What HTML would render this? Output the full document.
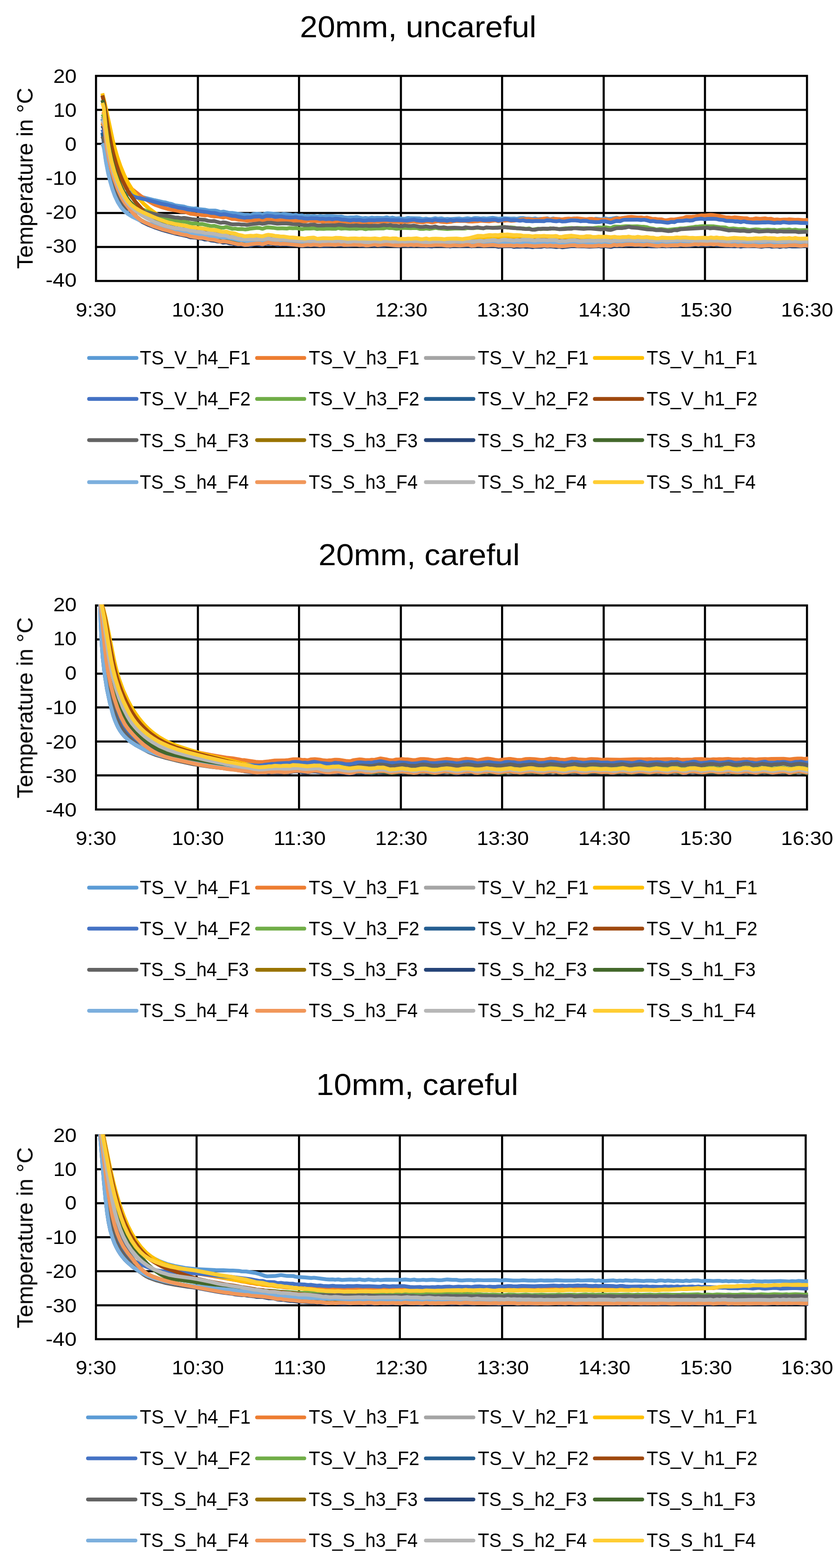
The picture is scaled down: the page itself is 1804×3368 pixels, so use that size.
<!DOCTYPE html>
<html lang="en">
<head>
<meta charset="utf-8">
<title>Temperature curves</title>
<style>
html,body{margin:0;padding:0;background:#fff;}
body{width:1804px;height:3368px;overflow:hidden;}
svg{display:block;}
text{font-family:"Liberation Sans", sans-serif;fill:#000;}
.title{font-size:64px;}
.tick{font-size:43.3px;}
.atitle{font-size:47.5px;}
.leg{font-size:41.6px;}
.grid{stroke:#000;stroke-width:4.5;fill:none;}
.series path{fill:none;stroke-width:8.2;stroke-linejoin:round;stroke-linecap:butt;}
.lk{fill:none;stroke-width:8.2;stroke-linecap:round;}
</style>
</head>
<body>
<svg width="1804" height="3368" viewBox="0 0 1804 3368" role="img" aria-label="Temperature curves for three insulation variants">
<rect width="1804" height="3368" fill="#fff"/>
<defs>
<clipPath id="clip0"><rect x="206.2" y="160.7" width="1529.2" height="445.1"/></clipPath>
<clipPath id="clip1"><rect x="206.2" y="1298.2" width="1529.2" height="442.8"/></clipPath>
<clipPath id="clip2"><rect x="206.1" y="2436.4" width="1529.3" height="442.2"/></clipPath>
<filter id="soft" x="0" y="0" width="1804" height="3368" filterUnits="userSpaceOnUse" color-interpolation-filters="sRGB"><feGaussianBlur stdDeviation="0.5"/></filter>
</defs>
<g filter="url(#soft)">
<g class="chart">
<text class="title" x="644" y="79.5" textLength="508" lengthAdjust="spacingAndGlyphs">20mm, uncareful</text>
<path class="grid" d="M203.9 162.9H1735.3M203.9 236H1735.3M203.9 309H1735.3M203.9 384.2H1735.3M203.9 457.6H1735.3M203.9 530.5H1735.3M203.9 603.5H1735.3M206.2 160.7V605.8M425 160.7V605.8M642.2 160.7V605.8M861 160.7V605.8M1078.3 160.7V605.8M1296.5 160.7V605.8M1514 160.7V605.8M1733.1 160.7V605.8"/>
<g class="series" clip-path="url(#clip0)">
<path stroke="#5B9BD5" d="M219.8 255l2.4 11.7l2.3 28.9l2.8 23.8l2.8 17.9l3.1 16.7l5.1 21.4l6.3 21.1l4.3 11.3l1.9 3.5l2.4 2.9l2 1.7l2.4 1.2l4.2 .6l4.6-.8l11.2-3.7l3.8-.3l2.7 .3l4.4 1.6l11.8 6.6l6.5 2.2l25.4 6.5l17.6 4l5.8 .8l6.8 2.1l5.9 1l7.8 3l19.5 2.9l6.9 2.2l9.9 1.6l3 .3l5.9-.3l6 1.6l13.9 1.4l7 1.6l13.9 .1l5 .9l5.9 2.1l2 0l5-.9l12.9 2.9l5.9 0l25.8 3.9l8 .1l5 .9l2-.4l5-2.1l7-.6l6 .3l5 1.5l2.1-.1l6-2.3l4-.6l22 1.8l6 .9l7-1.1l14 1.7l5 1.2l7-1.2l6 2l7-.7l6 2.2l7-1.1l6 1l7-.7l7 1.3l6-1.3l7 .8l7-.6l12 .2l12 .9l7-.3l6 1.8l8 .7l6-.4l6.1 .1l7-.9l13 2.8l6-1l7 1l7-1.5l5 .7l6-.5l14 .5l6-1.4l2 .2l5 1.8l6-1.5l7 1.9l7.1-.7l5 1l7 .3l2-.2l4-1.4l2-.2l5 .6l20 .4l6 1.7l7-1.3l6 1.2l6-.1l8-1.9l6.1 1.2l7-.8l7 1.6l6-.5l6 .4l19-1.2l7 1.2l11-1.8l9 1.4l5-1.6l3-.3l5.1 .2l6 1.1l6-.7l7 .7l13-1.7l12 1.9l13-.9l14 .7l7-.3l6.1 .8l6-1.4l7-.4l6 1.2l7 0l7 .8l6-1.1l6 1.5l7-.7l7 .5l4-1.3l2-.3l5 1.7l2 .2l6-1.5l7.1 1.6l6-.4l5 1.6l2 .1l6-.1l6-1.3l13-1.4l7 1.9l6-.3l10 .9l9 0l8-.2l6-1.9l12.1 1.3l2-.4l4-1.4l2-.2l6 1.2l2 0l7-.7l9-1.9l2 .1l4 1.6l2 .4l5-1.5l3-.4l5-.2l5 1.3l2 .1l6-.4l6-1.4l7 .6l6 1.4l7 .3l6-.4l7 3l5 0l10 .9l16 .1l6 .6l14.9-1.8l6 1l19-3.5l13.9-1.7l6-.1l6-1.1l7 .6l5.9-.9l17-1.1l4 .3l6 1.8l5.9 0l8 1.2l5 1.7l7 1.7l6.9-2l7 1.6l12-.2l6 1.9l7-.1l14 1l6.9 1l11 .3l7-1.6l7 1.3l6-.9l5 2.2l2.1 .5l7-.4l6-.9l6 1.3l8-.7l5-1l7 0l6 .8l6-.8l22.1 1.2"/>
<path stroke="#ED7D31" d="M219.8 240l4.3 2.7l2.8 2.5l1.7 2.2l1.5 3.3l11.7 55.7l4.6 18.5l5 17.3l6.1 17.9l6.4 15.8l8.3 17.1l5 7.4l5.5 5.4l22.1 17.2l17 10.6l7 4.1l6.3 3l13.2 4.6l11.5 3.3l22.5 4.3l6 1.7l7.9 .3l5.9 1.7l6.8 2.6l5.9 .4l6.9 1.2l6 0l5.9 1.1l7 .8l6-.7l6 1.9l7 .9l4.9 0l7 .7l7 1.6l1.9 0l5-1l2 .4l11.8 4l5.9 0l7.9 1.4l11.8 .9l6 1.5l7-1.1l18-1l8.1 1.5l2-.3l5-1.9l3-.4l9 1.5l7-.5l6 1.1l6 .1l6-.6l8-.3l6 1.1l14 .3l6 1l6 .1l6 .8l2-.1l5-1.4l8-.3l6 1.2l13 0l6 1.4l7.1-1.4l18 1.1l7-.5l8 .5l6-.3l6 .5l6 1.3l7-1.5l7 1l6-.5l8 .4l5-.6l7 1.5l10-1.6l16-.1l5 .5l14-1.8l6 1.4l8-.2l11.1 1.1l7-1.3l7 .8l13-1.7l6 1.8l13 .8l7-1.7l7 .3l4 1.2l2 .2l13-2.6l6 1.3l13 .9l8-.9l5-1.2l7-.6l20.1 0l6 1.1l8 .2l6-.6l6-.1l6-1l19 1.1l12-1.8l2 .2l4 1.3l2 .1l7-1.9l6 .7l6-.7l7 1.1l7-.3l19-3l13-.3l9 1.1l10 .1l7-.7l5-1.4l2-.1l6 .2l6 1.5l12-1.4l14 1.3l7-1.3l7-.3l6 .4l12.1-1.1l20 2.1l7-1.1l6 .2l18 2l14-.5l6.9 1.8l2-.4l5-2.3l5-1.5l12-.4l13.9-2.6l7-.4l14 1.5l7-.4l6 1.2l6-1l13 3.2l6-.2l6 1l7 0l6.9 1.9l2 .2l11-2l6.9 .3l11.9-2l7.9-1.4l4.9-2l2-.4l11.9-.1l6-.6l13.9-2.6l7 .3l12.9-1.1l4 .2l14.9 2l13.9 3.1l6 0l6 .7l6.9-1l19 2.2l7-.1l6 2l8-.5l5-1.1l9 .8l11-.9l6 1.2l7-.4l5 1.6l2 .3l6-.5l6 .7l8-.4l6 .1l6-.7l13 1.2l6-.4l13 1.1l6-.5l3 .6"/>
<path stroke="#A5A5A5" d="M219.8 250l3.5 6.9l1.4 4.6l3.8 32.7l3.8 25.8l4.8 24.5l5.7 22.3l6.7 21l7.4 18.6l8 16.1l3.6 6l4 5.7l4.5 5.4l5.6 5.6l6.8 6l7.1 5.5l8.3 5.6l9.5 5.6l16.1 8.1l13.8 5.7l17.2 5.1l17.6 3.6l20.8 3l8.9 2.4l18.8 2.3l6.9 1.3l11.9 1.1l6.9 1.9l6.9 1.1l6 .3l7.9 2.6l6.9-.1l5 .6l19.6 4.5l13.8 2.6l24.8 .6l6.1-1l4-.2l9 1.1l10.1-1.8l10 1.5l10 .8l8 .1l8-.6l13 1.4l14 .2l7 1.4l11 .3l19-.7l10 1.7l12-.5l6-.7l6 .6l6-.4l6 .4l7-.7l7 1l7 0l8 .9l12-.9l11 .8l6-.5l7 .5l8-.2l4.1 .5l11-1l9 .5l20-1.2l9 1.3l5 0l6-.6l6 .8l26-1.3l7 1l7 .4l13-.6l7.1 1.1l14-1.3l19 .7l5-.3l6 .2l14-.6l7 .3l16-1.1l10 1l7-.9l14-.3l24-1.6l11 .9l9-.9l12 .4l6-.8l13 .6l7-.8l6 .3l7-.7l18.1 2.1l8-1.4l13 .3l6-.4l8 .2l14 1.3l16-.1l9-.6l6 .2l6-.6l7 1.3l6-.3l7 .5l7.1-.5l13 .8l26-1.1l12 1.4l7-1.9l4-.5l12 1.1l9-.7l13-.2l7 .5l6-.7l17 .2l8 .2l9.1 1l11-.2l7-1.3l13 2l7-1.5l6 .5l6-.6l8-.2l6 .3l6 1.1l6-.2l7 .8l12-.7l8 .3l39.1 0l8 .2l10 1l14-2.2l7 .5l7-.2l13 1.2l14-.4l11 1l7-1.4l12 .3l6-.6l14.1 1.5l33-.3l6-.5l12 .7l8-.4l8 1"/>
<path stroke="#FFC000" d="M219.8 200.5l6.2 25.3l15.7 73.4l5.1 20.3l5 17.3l7.2 20.8l7.7 18.5l8.6 17l9.4 15.3l11.2 15.4l12.1 13.3l12.7 11.3l14.6 10.6l9.5 5.4l18 8.7l25.4 9.8l11.5 3.2l7.6 3l4.9 1.2l15.5 2.1l6.9 1.6l29.7 4l11 2.5l10.9 .8l6.9 2.1l11.7 2.1l15.6 3.4l7.9 .7l8.9 .3l8-.9l8.1-.1l10 1.4l4.1-.5l6-1.6l3-.2l7 1.2l6 .4l6.9 1.4l8-.3l18 2.1l7 .1l7 .7l6 1l6-.2l6 .6l11-.4l8-.7l9 1l23-1.3l15 0l13 .1l5 1.1l10 .5l17.1-1.2l6 .8l9 .5l16 0l9-1l12 .9l6-1.1l6-.5l13 .1l18 1.1l12-.2l16-1.1l7.1 .6l8 1.3l11-.7l11 .3l14-1.3l3 .2l4 .8l9 .2l25-1.1l6 .8l6 0l12-1l7 1.2l4 .2l4-.4l5-1.2l6-.4l15-.4l5 .6l8-1.1l7 .8l13-1.6l12 .5l13.1-.7l6 .5l7-1l7-.1l6-.7l15 1.9l5-.2l6-.9l6 .2l7-1l19 1.4l6-.5l6 1.5l2 .1l12 .1l7-1.6l13.1-.4l11 1.6l10 0l12-.6l5 .8l7 .4l6-.8l8 0l17 1.3l4-.2l8-1.5l10 .8l7-.8l18 .5l7-.5l6.1 .9l14-.7l19 2l14-.9l16 1.2l9-1l6 .7l6-.8l7 .2l6-.9l7 .9l7-.3l6 1.2l13-1.4l14 .9l15.1-.7l26 .7l10 1.2l9-1.6l5 .3l6 .9l6-.8l6 0l13 1l6-.8l4-.1l10 1.2l8-1.1l16 .3l9 1l13.1-.6l19-.2l7-.5l7 .2l6 .9l6-.6l7-.1l8 .9"/>
<path stroke="#4472C4" d="M219.8 278l2.4 6.4l1.2 4.8l2.8 24.8l2.6 18.8l3.4 18.8l3.9 17.6l5 18.3l5.6 17.2l3 6.3l1.7 2.2l1.9 1.7l3 1.4l2.5 .3l10.2-1.3l4.4 .4l4.4 1.5l9.7 4.9l6.6 2.2l22.4 5l30.1 8.2l16.5 3.3l5.9 1.8l6.8 1.3l5.9 1.8l13.7 2.1l6.9 2l5.9 .9l9.9 .7l8.9 1.8l19.8 2.5l6.9 1.7l8 .3l11.9 3.3l5.9-.8l6 .5l12.9 2.9l6.9 .2l5.9 1.6l13.9 2.3l6-.9l7 .2l7-1.6l11-.6l2 .1l4 1.5l2 .2l7-2.6l3-.3l10 .6l7 1.6l13-.9l11 1.7l8 .5l7-.2l5-.7l7 1.5l6 .1l6 1.3l7 .4l7-.9l7 .3l5-.2l7 1.5l6-.6l7 .9l7-.7l7 1.2l5-1.2l7 .1l7 1.6l7 .2l12.1 1.7l7-1.3l6 .7l7-.5l8 1.5l6-.3l5-.9l13 .5l6-.7l4 .2l15-.7l8 .6l26.1 .3l5 .6l6 .1l15-1.9l6 1.5l11 .9l3-.1l5-1l6-.4l8 1.2l5-1.6l2-.2l6 1.2l6 .2l7-.3l6 1.3l7.1-1.9l6 1.4l7-1.4l8 .8l18 .1l5-1.1l9-.6l5 .6l6-.8l7 1.4l12-.2l7-.8l5.1 0l3 .4l5 1.5l8-1.3l4-1.4l2-.2l7 .5l6 1.5l6-.2l7 .4l6 1l6.9-.9l6 1.6l6-.1l8 .7l7-.7l18.1 .4l5-1.5l2-.2l7 .2l5 1.1l8 .6l6-1l6 1.4l7-.3l12-2l9 .1l5 .3l6 1.3l6-.7l7 .2l6 1.4l14.1 1.1l7-.1l5-1.3l7-.4l11 2.5l2 .2l3-.6l8.9-2.7l8 .5l5-2.1l5-1l28-.2l7 .7l7-.6l7 1.5l6 1.8l6-.5l7 1.3l8 .2l16 2.1l3-.3l4.9-1.4l7 .4l5-2.1l2-.3l11.9-.4l7-1.2l6 .7l7-.4l6-2.4l12.9-1.4l7 1.4l6-.9l10.9-.3l8 .5l7 1.6l7.9 .6l6 1.8l14 .5l6 1.3l4.9-.5l7 1.6l6-1.6l2 .2l5 1.4l12 .9l9 .3l13-.6l6 .1l6.1-.5l13 1.6l6-.8l7 .5l5-1.3l2-.1l12 1.4l12-.7l5 .2l8 .7l9 0l7 1.1"/>
<path stroke="#70AD47" d="M219.8 245l4.3 6.4l1.9 5.4l4.4 33.6l4.2 25.7l4.9 23.5l5.9 22.3l5.9 18l7 17.7l7.4 15.3l8.1 13.8l4.8 6.3l5.7 5.6l6.5 4.5l7.1 3.7l51.1 20l6.5 2.1l13.6 3.1l8 2.4l5.9 .8l5 0l8 .7l5.9 1.3l6 2l4.9 .8l3 .2l5-.4l6.9 1.5l6.9-.1l18.9 4.5l6.9-.6l10.9 3.2l4 .8l5 0l4-1.3l1.9-.2l13 3.9l6-.5l6 1.2l7.9-.3l7 .9l6-.6l5-1.1l15-1.7l6 .5l4 1.3l2 .1l8-2.6l3-.3l11 .9l10 1.4l10-.3l10 .5l6-1.1l7 .7l7-.5l13 2.2l6-1.4l11.1 0l7-.5l2 .1l6 1.6l6-.7l8 .4l9-.9l9 .7l6 0l2-.2l5-1.6l7 1.6l6-.7l4 0l8 .8l9-.5l5 .8l6-1l7.1-.2l5 1.5l2 .3l6-1.4l5 .4l13-.6l14 0l7-1.7l6 1l7 0l7 1.3l7-.3l6-1.4l7 0l12 .6l7-.5l7.1 .3l6 1.7l7 0l6-1.1l7 1.2l13-2.3l5 .8l20 1.6l20-1.3l18 .4l6-1.2l12.1 .3l9-.9l13 1.1l6-1.5l14 .5l25-1.8l7 1.5l6-.7l8 .8l5 1.2l7 .5l6.9-.3l6 1.1l7-1.1l5 2.3l2 .4l12-1.8l6 .7l7-.8l7 .7l6-1.6l6 .7l6 0l7 .9l14.1-1.7l5 0l8-.8l6 .7l6-.5l13 .5l8-.4l5 .4l9-.4l11-1.3l6 .4l9-.5l11 1.5l2-.6l4-2.1l2-.5l13 .3l12-1.2l13 .5l11-.2l9 1l6 .1l6 .9l5.9 2l8 1.2l5 1.5l2 .1l5-.7l5-.1l13 1.8l21.9-2.2l6-1.2l6 .1l6.9-.7l5-.9l8-.8l7-1.4l6-.2l8-.8l24.9 .4l12.9 1.8l12 .7l7 2.7l9.9-.8l11 1.5l12-.4l5 1.3l7 1.1l13-1.4l8 .5l5 .9l13-.7l8 .5l6-.4l6 1.4l6-1l6-.5l8 .2l6-.8l6 1.5l7-1.1l7 1.3l17.1-.2l4 .4"/>
<path stroke="#255E91" d="M219.8 285l1.9 10.8l2.8 26.9l3.2 22.8l4.1 21.6l5.2 21.4l6.4 21.1l6.2 15.8l3.5 7.2l3.5 6.1l3.9 5.7l3.8 4.7l4.2 4.3l4.5 3.9l5.6 4.2l5.9 3.7l14.3 7.2l19.4 8l17.3 5.1l32.2 7.2l7.8 2.4l13.7 2.5l24.6 5.3l19.8 2.4l9.9 .4l9 1.4l12 1.2l12.9 2.4l9-.2l12.8 2.8l5.9 .6l12.7 3.2l7.9 1.1l17.9-.6l8.1-.8l7 .9l3 0l5-.5l5.1-1.3l3-.3l21 3.1l12.9-.4l8 1.5l33 2.3l6-.5l7 .3l8-1l4 .1l5 1.2l3 .3l10-.7l7 .2l7.1-.9l7 .5l13-.7l6 1l7-.5l8 1.2l12-.6l12 .1l8.1 .5l6-.1l6 .5l9-1.1l7-.2l9 .6l12-.7l12 0l9.1 .9l26-.9l7 .3l6-.5l13 1.3l8-.5l17.1 1.1l10-1.3l16-.2l7 1.1l7-1.1l6 .3l12-.7l19-.1l9.1 .8l8-.8l26 .3l11-.5l5 .3l7 1.2l12-1.4l15.1 .6l6 .7l7-.7l25-.7l9 1.9l15-.4l15-.9l7 .7l10.1-.2l9 1.3l8-.1l5 .5l14-1.7l20 .9l6 .9l6-.7l11.1-.2l15 1l6 0l10-.9l12 1l4-.4l6-1.4l11 .7l9-1l7 .5l13.1-.4l13 .3l12-1.3l9 1.3l14-.2l8-.7l12 .7l9.1-.1l13-1.2l8-.1l6 .7l7-.4l11 1.1l14-.5l17 .7l4 0l6.1-.9l6 .2l7-.4l6 .4l11-.4l8 1.4l8-1.6l6 .3l5-.6l8 0l5 .5l7-.1l5.1 .6l13-.2l12 .5l8-1.1l11 0l9 1.3l7 0l6 .6l20.1-1.4l20 1.2l13-.7l8 .6"/>
<path stroke="#9E480E" d="M219.8 205l3.5 14.5l8 50.5l4.5 25.6l4 19.6l4.2 17.5l5.8 20.2l6.2 18l6.9 16.6l8 16.2l9.3 15.4l10.1 13.6l17.1 19.6l8.5 8.6l5.9 5.3l7.1 5.7l5.7 4l11.4 6l10.3 3.7l19.4 4.7l20.9 2.6l14.9 3.2l22.7 3.2l5.9 .4l8.9 1.7l15.9 2l9.9 2.8l10.9 .5l19.6 4.7l6.9 .7l6.9 1.5l8.9 .8l9 .1l17-1l9 1l5.1-.3l6-1.5l2-.1l17 2.5l4 .1l8-.9l11 1.3l7 .1l6 1l12 .4l13 1l7-.8l10-.1l4 .2l8 1.2l22-.9l16 .1l10 .3l17.1 1.6l12-1l31 1.3l8-1.2l11-.1l7 .5l20-1.2l7 .8l6.1-.3l12 .8l7-.7l12-.1l26 .8l13-.2l7 .6l9-.9l11 .4l6.1-.4l13 .6l14-1l7 .5l15-.3l14 .3l7-.7l9 .2l11-1.1l7 .1l12-.9l8 .4l19-1.3l14 1.1l20-1.8l22.1 1.5l20-.8l7 0l8 .7l32 1.4l15-.7l7.1-.8l6 .3l5 1l7 .3l8-.5l25 .5l6-.9l8-.3l10 1.1l4 .1l4-.4l6-1.5l8 1l10-1.1l41.1 .2l6-.7l9 1l11 .6l9-.6l12 1.1l7-.7l25.1-.7l6 .3l6 .9l6-.2l7 .6l20-.5l13 1.3l13-1.3l6 .3l18-.1l8 1.3l11.1-1.7l9 .4l6-.6l16 1.3l15-.6l9 .6l7-.8l6 .1l6-.5l7 1.2l6 .3l25.1-.1l13-.7l7 .6l7-.3l5 .7l11-.5l5 .3"/>
<path stroke="#636363" d="M219.8 293l2.7 6.3l1.4 4.6l3.4 25.8l3.3 19.7l4.2 19.6l5 19.3l5.5 17.2l5.5 14l7.5 15.3l2.6 4.3l2.4 3l3.5 3l3.2 1.9l9.5 2.9l50.3 9.4l6.9 1.6l27.7 3.9l10.9 2.3l6.9 .3l7 1.3l5-.7l2 .1l15.9 2.8l9 1l6-.6l12.9 1l6.9 1.9l7 .8l5.9-.4l12.9 3.8l2 .1l4-.8l3 .1l5 .8l8.9 2.6l4 .7l12.9-.4l5 .8l7 0l5.9 .9l7-1.3l18-2.2l3 0l5 1.1l5-.7l6-1.6l8 0l13 1.9l10-.5l10 0l8 .7l5 .9l14 .3l6 1.4l4 .3l10 0l5-.9l4-.1l4 .2l5 1.4l2 .2l13-.1l6-.7l18 .6l8-1.4l23 2.3l15-.9l6.1 .9l8 .2l6-.7l7 .9l12-.8l8 .5l12-1.8l6 .9l7-1l6 1.7l7-.1l6 1l7-.1l6-1.5l6 1.1l8 0l5-.7l14 2.8l7-.3l5-.9l7 1.4l6 .3l7-1.4l7 2.1l6 .2l6-.6l7 1.3l15-.5l11 .5l6.1 .7l2-.2l5-1.7l13 1.7l13-1.6l6 1.1l7 .6l6-1.6l13 1l5-.2l6 .2l16-1.6l7 .5l5 1.1l6 .5l14 .3l6 1.1l7 .6l6.9-.2l6 1.4l4 .3l3-.2l5-1.1l11-1.1l16.1 .3l7-.9l12 1.8l13-.4l8-.7l6 .1l5-1.2l2 0l19 1.6l5-.6l8-.4l24.1 2.1l8-1l5.9 1.6l6 .5l3-.5l10-3.3l7-.5l6 .2l8-1.2l6-1.3l6 1.4l13.9 1l19.9 3l11.9 .4l7 1.3l11-.2l14 2.1l8-.5l6-1.7l6 .6l7-2.2l57.9-3.4l6 1.4l6.9-.8l12.9 1.4l19.9 4l8-.8l17 1.7l8-.6l6 1.3l3 .2l4-.1l5-1.3l2 0l12 2l20.1-1.4l7 1.1l6-.6l6 1l7-.9l5 .6l27 0l7 1.4l16-.8l3 .1l2 .6"/>
<path stroke="#997300" d="M219.8 265l3.4 7l1.4 4.6l3.5 30.8l3.9 24.7l4.8 23.5l5.9 22.3l7 20.8l7.4 17.6l7.5 14.1l8.6 12.2l11.5 14l9 9.3l8.6 6.7l9.6 5.3l13.8 6l18.9 6.9l25.9 7.6l17.5 4.3l9.8 1.7l10.8 3.1l6.9 .7l17.7 3.1l12.8 1.6l6.9 1.4l11.9 1.4l9.9 2.5l16.9 1.5l6.9 1.9l12.8 2.4l6.9 0l6 1.2l4 .3l10.9-.8l13-2l12.1 1.1l9-2.9l3-.3l20 3.2l13-.4l7 1.3l6-.4l7 .7l13 .4l9 .8l22-1.3l14 1.4l18-1.2l14 .3l11-.5l9.1 .9l10 .1l24-.8l12 1.1l9-.2l10-.7l9 .7l17-1.1l6.1 .8l9 .4l11-.1l6 .7l13-1l7-.2l6 .8l6-.1l13 .8l8-.4l8 .9l17-1.2l7.1 .6l6-.3l6 .6l13-.2l8-1l6 .8l6 .2l12-1.3l9 1.7l10-.8l8 0l7 .6l6.1-.6l8-.1l7 .2l9 .9l15-.8l15 .9l12-.3l5 .5l7-.9l7 .7l7 .1l8 .9l11-.1l8-1.1l12 .5l17.1-.2l8 1.3l7-.7l6 .2l8-1.2l12-.3l8 .9l11 .2l6-.8l8-.3l12 .8l13-.6l7.1-1.1l13 1.8l11-2.5l12 .8l9-.9l7 .3l12-.6l7 .5l7-.4l6 .5l6-.5l8 1.7l13 .4l8-.7l14.1 1.4l29-2l6-.8l14 .6l13-1.3l6 .1l7-.6l13 1l7-.8l6 .4l6-.4l13 .6l9 2l4 .5l6-1.3l3-.2l11 1.3l12-.5l10 1l12-.2l10 .5l12-1l8-.2l8 .9l12 .4l20-.4l6-.9l6.1 .6l13-.2l6 .4l8-.2l5-.7l3 .3"/>
<path stroke="#264478" d="M219.8 270l3.7 6.8l1.5 4.5l4.1 32.8l4.3 25.6l5.8 25.4l6.8 23l7.7 20.6l7.8 16.2l7.3 11.9l12.7 16.8l9 10.7l8.1 7.5l7.4 5l10.7 5.3l14 5.7l18.9 6.5l29.9 8.3l21.5 4.4l7.8 2.7l10.8 .7l7.9 1.4l6.9 .7l5.9 2l6.9-.2l6 2.2l6.9 .6l6.9 1.6l6 .5l5.9 1.9l7-.7l6.9 2.2l6.9 .6l5.9 2.1l12.9 .4l6.9 1.2l7-.4l5 .9l2-.3l5-1.6l7-.6l6 1.2l7 .2l6-2.5l3-.5l10 .2l13 2.7l7-.8l7 .3l5-.3l7 1l7-.2l13 .9l6 1.4l7-1.3l6 .4l8-.6l13 .6l5-.4l7 1.4l8-.8l5-.1l6-.8l6 .3l8-.4l6 .4l6-.4l8.1 .8l17-.9l17 1.4l12-.4l5-.6l6 1l6-.8l5 .6l8 .3l6-1.1l8-.1l19 1.9l6-1.4l13.1 .9l14-.4l5-.8l7 1.3l4 .4l10-.6l11 1.2l2-.1l6-1.7l6-.3l6 .7l6-.1l9 .5l5 1l13-1.8l7 1.2l6-1l6.1 .6l6-.5l8 1.2l6-1.1l6-.6l8 1.2l6-.9l12 .8l8-.8l12 2.3l12-1.4l8 .1l6-.5l7 2.1l6-.8l6 .4l7-.7l7 .8l6-.4l8 1.3l6-1l12 .2l7-1.4l6 .8l8.1-.4l12 1.5l7-.7l6 1.1l20-2.5l14 .5l11-.2l5 .6l8 .3l20-1l6 1l8-1.1l12 1.7l9-2.2l11.1 .1l6-1.4l6 .7l7-1l6 .6l14 .2l6 .7l5-1.2l7-.4l2 .4l4 1.8l3 .4l14 0l10-1.3l7 1.3l7-.4l5 .6l6-1.4l3-.3l11 .2l7-.8l5 .7l8 .2l13-2l6 1l7 0l6-.7l7 1l6-1.2l5-.4l3 .2l5 1.1l14 .2l7 1.2l5-.1l5 .7l9 .2l5-.6l7 1.1l6-1l11 .3l13-.3l15 1.5l6-1.2l8-.7l7 1.6l6-.1l6-.6l6 1.5l7-1.6l6 .6l7.1-.9l6 .8l8 0l12-.3l7-1.1l8 .8"/>
<path stroke="#43682B" d="M219.8 215l2.2 7.6l1.1 5.9l4.7 42.7l4.8 33.7l4.4 23.6l5 21.4l6.9 23.1l8.1 21.5l4.5 10l5 9.8l4.9 8.7l4.5 6.7l4.9 6.2l5.5 5.8l6.6 6.1l7.8 6.4l15.7 10.6l17.6 9.7l14.7 6l24.7 8.2l22.4 4.9l12.7 4l12.7 2.3l5.9 1.6l7.8 1.5l4.9-.2l4.9 .8l3 .6l5.9 2.3l6.9-.4l17.7 4.5l7.9 .2l6.8 2.1l4.9 2.1l7.9 2.1l6.8 1.3l12.8 1.5l12.9-.9l13-.1l5-.9l13.1 .5l7-2.1l7 1.9l13 2l6-1l5-.1l3 .3l6 1.5l19 1.2l7-.1l7 1.2l6-1.1l12 .5l7-1.4l7 1.3l13-.3l6-1.1l6-.5l2 .1l5 1.3l7-.6l13 .5l7-.3l7 .6l6-.4l5 .5l14.1-.1l8 .9l12-.1l7-1.2l5 .4l6-.4l7 .6l8-1.1l19 1l12-.3l6 1.1l7-1.3l7 .1l6-.8l7 .5l6-.3l11 1.8l8.1 .4l24-1.3l9 .6l6-.3l7 1l6-1.2l8-.5l6 .1l7 .9l16-1.4l10 1.4l7-1l5-.2l6 1.1l4 .1l10-.2l6-1.5l12.1 .7l7 1.5l7-1.8l7 .9l6-1.1l13 1.9l6-1l7 .4l5-1.1l8-.7l5 .9l11 1.1l4-.2l5-1l8-.3l5 1.1l12 .6l13-1.3l2 .2l6 1.6l7 .4l7.1-.4l5-1.7l2-.2l6 .3l6 .7l6-.8l6 1.8l7 .5l6-1.3l7-.6l2 .3l4 1.5l2 .2l12-.8l13 .2l5-.6l12 .5l8-1.5l7 1.1l5 .3l2-.2l6-1.6l13-.6l7.1 1.3l6-1.4l7 1.5l8-.8l12 .7l6-.9l7 .2l5 .9l7-1.8l7 1.6l7-1.2l6-.3l6 .5l7-1.1l5 .7l8 .3l6-.7l14 0l5 .4l7-.8l6 1.2l10.1 .4l15-.7l8 .5l6-.7l7 .6l5-.5l6 .1l10-1l5 .9l6-.8l7 .9l14 .1l6-.5l5 .5l7-.2l7 1.5l6-1.7l4-.4l24.1 1.1l11 1l13-1.6l7 .6l13 .2l6-.5l8 .7l5 1l9 .5"/>
<path stroke="#7CAFDD" d="M219.8 308l2.4 6.5l1.2 4.7l4.2 28.7l4.5 23.6l4.3 17.5l5 17.3l5.4 15l6 12.7l6.3 10.2l7.2 8.3l8.3 7l10.2 6.3l13.6 6.5l19.5 7.8l12.4 4l21.4 4.6l16.6 4l6.8 2.2l6.9 1l7.8 2l10.8 1.6l13.7 3.8l6 .3l6.9 1.2l13.9 1.2l5-.1l7 1l6.9 .4l7 1.9l6 0l6 1.8l6.9-.9l18.8 3.7l7.8 1.9l5.8 .2l6.9 1.1l6 1.4l8-.6l5-1.2l2-.2l8-.1l7 .6l7.1-.2l5-1.3l3-.3l8 .6l5 1.5l7 1.5l1.9-.2l4-1l2-.1l6 .8l6 1.5l20 1.1l6 .9l11 .3l16-.8l6 .6l5-.6l7 1.6l6-1.6l7 .5l7-1.4l6 1.3l8-.1l12 .6l7-.5l11 1.6l13.1-1.8l9 .1l6 .5l6 1.4l6-.9l6 .7l7-1l8 .1l5-.9l6 .8l7-.1l7-1.6l7 1.5l6-.2l12.1 .5l8-.4l12-1.3l6 1.4l8 .5l5-.6l15 .1l6 .4l5 .9l2-.3l4-1.6l2-.3l11 .9l15 .1l5 .5l7-1.4l7-.3l13.1 1.3l5-1.3l6-.5l2 .2l6 2.3l2-.3l4-1.5l2-.2l5 .4l6-.2l6 .7l7 .1l8-1.3l15 1.1l11-1.2l5-.2l7 1.3l7-.6l12 1.5l14.1-.9l6-1.2l8 .6l10 1.4l15-.8l19 .8l6-.8l2 .2l5 1.4l7 .5l6-.6l12 .4l7-1.3l7-.1l10 1.2l4 0l5-.9l6 1l15.1 .8l6-.3l6-1l14 0l8 1l7-.4l9-1.3l2 .2l5 1.4l3 .1l9-1.3l14-1.1l6 1.3l14-.2l5-1.6l2-.2l6 1.2l6-.6l7.1 1.7l6-.4l6 .3l7-1.6l12 1.5l8-1.7l5 .5l8 .1l12-1l20 2.1l8-1l12 .8l6-1.4l7 0l6 .9l8.1-.7l5-.9l6 .8l11-.2l8 .6l9-1.4l5 .6l7-.5l5 .9l15 .5l5-.6l8-.1l7 .6l8 0l11-.3l5-.7l4-.1l4 .4l5 1.6l7.1 .2l6-1.2l7 .6l7-1.1l6 .7l7-.4l6 1l7-1l6 1.5l6-1.1l6-.2l3 .4"/>
<path stroke="#F1975A" d="M219.8 262l3.2 7.1l1.3 4.6l4.5 38.8l5.5 31.5l5 21.5l5.9 20.1l7.9 21.6l8.1 17.2l3.5 6.1l4.4 6.7l13 16.5l10.1 11l4.5 4l4.8 3.6l9.5 5.5l19.3 8.4l19 6.5l13.4 3.3l12.5 4.2l6.9 .8l5.8 1.9l6.9 1.4l5.9 .5l7.8 2.9l12.8 1.9l5.9 1.4l6.9-.3l7.9 1.6l5.9 1.7l12.9 1.2l12.9 3.8l5.9-.6l4 .3l7.9 1.2l19.8 4.5l1.9 .1l5-.5l5.9 1.6l3 .3l5-.2l5-1l16-1.7l5 .2l4 1.2l2 .1l12-3.6l7 1.6l8 .8l6 0l5 .9l6-.5l7 .3l34 3.1l12-1.6l6 1l6-1.1l2 0l6 .4l6 1.2l7.1-1.3l8-.4l12 .3l6 .6l5-.9l7-.5l7 1.3l26-.7l7 1l6-.8l7.1 1.5l7-.3l12-1.9l7 1.9l14-1.9l31 2.5l6-1l7-.4l7 .8l6-1.1l7.1 .9l5-.7l8 .9l7-.2l6 .9l5-.6l7 .1l8-.8l12-.2l12 1.7l8-.1l7-1.1l13.1 1l17-1.8l2 .1l5 2l2 .2l6-.5l6-1.6l7 .5l6 1.2l20-1.5l12 1.7l8-.4l6.1 .2l12-.3l7 1l6-1.1l7 .8l7-.1l6-.8l18 1.7l21-1.5l7 1.1l6-1l6 .9l6-.4l7 1.2l13.1-.5l13-1.6l7-.2l7 1.6l12-.8l6 .9l17-.1l4-.2l6-1l6 1l7-1.1l8 1.1l5 0l7-2.3l6.1 1l5-.9l7 .6l6-1.2l7-.3l8 0l6 .9l7-.5l12 1l7-1.1l18 2.4l6 .3l2-.1l6-1.6l9 1.4l11-1l7.1-.2l6 .3l6-1.5l6 .9l7 .1l8-.4l12-1.5l6 .9l6-1.3l10 .7l5-.1l6-.6l6 1.1l5-.9l2 0l5 1l15 1.4l5-.1l6 .5l7-.9l7 1.7l6-1.2l15 1.5l14-1l10 1.5l25-1.7l8 1.7l5-.7l14 .2l7-.3l6-.9l12.1-.3l13 1.4l8-1.2l8 .7"/>
<path stroke="#B7B7B7" d="M219.8 258l3.6 5.7l2 5.4l4.2 33.7l3.8 23.7l5 23.5l6 22.2l6.7 19.9l7.3 17.6l7.8 15.1l7.3 10.7l4.6 5.3l5.7 5.5l6.1 5.2l7.2 5.4l8.3 5.6l8.7 5l16.1 8.2l15.7 6.2l10.5 3.4l19.4 4.6l7.9 .9l10.9 2.1l7 .3l6.9 2.5l6 0l6.9 1.8l12.8 1.2l6 1.6l5.9 .2l7.9 1l7 1l12.8 2.9l6.9 .1l4 .5l3 .7l4.9 2.1l6.9 .4l11.8 3.1l7.8 1.5l5-.5l6.9 .5l14-.4l6 .8l5-.7l7.1 .4l5-.2l5-1.2l3-.3l7 1.5l12 1.2l2 0l7-1l6 .8l5-.1l8 .5l19 1.8l5-.3l7 .6l7-.4l11 .3l10 1.1l5-.5l11 .3l8-1.1l8.1 1l12-.9l2 .2l5 1.5l6-1.1l6 1.6l3 .2l5-.4l5-1.1l2-.1l5 .7l9 0l10 1.4l8 .2l12-2.1l13 1.3l13.1-2l14 1.8l5-.9l8 .3l6-.5l6 .9l6-1l7-.4l19 .7l7 1.3l14 .4l13.1-1.5l7 .4l11-.3l14 1l7-.5l6-1.3l7 .4l6 1.2l5-1.1l6-.6l9 1.1l13-.8l5-.8l7 1l6-1.1l7-.3l7-1.1l6 .6l6 1.2l6-1.5l7-1l19 1.8l8.1-1l6 .6l7-1.7l6 .6l7-.1l12 1.6l7-1.3l6 .4l7-.3l7 .8l5-.6l10 0l4 .4l5 1.8l2 .2l6-.8l6 .7l12.1-1.7l6-.3l3 0l10 1.5l3 .1l23-1l8 .8l7-.9l6 .7l7-1.3l13 2.1l4-.4l7-1.5l10 .6l12.1-1.5l25 .6l7-.3l6 .7l7-.7l7 .7l6 1l6-.9l5 .1l7-.6l8 1.3l3 .1l21.1-1.6l8-.2l7 .2l6 .7l7-.2l6 1.5l6-1.3l4-.2l23 1.2l7-.8l12 .7l7-.9l6 1l7-.5l6.1 1.7l6-1.6l3-.4l11 .3l6 .5l7-.8l7 .6l6-.2l6 .8l6-.9l12 .9l8 0l7-1.4l24 2l8.1-.1l7-.8l6 .5l6-.6l14 .5l13-.4l6 1.3l2-.1"/>
<path stroke="#FFCD33" d="M219.8 221l2.4 7.5l.9 4.9l4 39.8l4.4 32.7l3.9 21.7l4.2 19.5l6.1 22.2l6.9 19.9l8.3 19.3l8.5 15.9l5.6 8.2l6.7 7.3l7.9 6.2l10.2 6.2l8.9 4.5l21.2 9.4l14.7 6l17 5.8l6.7 1.2l7.8 2.2l5.9 .7l7 1.5l7.9 .9l11.9 3l32.6 4l11.9 2.1l10.9 .7l13.9 3.8l2 .1l5.9-.8l6.9 2.3l11.8 1.9l6.8 2.8l7.7 1.3l5.9 1.8l12.9-1.2l6 .6l7-1.2l9.1 1.6l4 .1l9-2.7l3-.4l8 .9l6 1.3l7 .6l5 .9l7 0l12.9 2l7 .2l13 1.3l6 .2l6 .8l2-.1l5-1.1l12-.9l2 .1l5 2l2 .3l12-1.1l20 .4l7.1-1.2l12 .3l14 1.7l6-.6l10-.3l9 .8l5-.6l19 .6l9-.7l12 1.4l6-1.7l2-.2l6.1 .3l6 .9l5-.6l8-.2l5 1.4l2 .1l6-.5l7 .3l6-.7l7 .3l11.1-1l9 1.7l6.1-.3l6-1l6 1.6l7.1-1l7-.3l13 .6l6 .6l6-1l20-.4l12.9 1.2l5.9-1.1l7.8-.8l18.6-5.1l7-.1l5.9 .5l5-1l8-1.1l6 .4l6.1-.4l6 .5l8-1.5l7 .2l5-.4l14 1.5l6-.4l7.9 .6l5 .9l13 .3l8 1.3l7-1.1l11 .2l7-.5l6 .7l7 .2l7-.1l5-.6l2 .3l4.1 1.6l2 .2l6-.2l6-1.3l14-1.1l16 2.1l9 .4l6-1.3l2-.1l6 .2l5 1.3l3 .2l5 0l5-.8l6 .5l11-.3l10 1.1l8-.9l4.1 .7l8 .5l6-.8l7 .2l5-1l6 1.1l8 .6l6-1.3l6 1l6 .3l7-.8l7 1.3l7 .2l5 1.2l4 .2l4-.2l6-1.5l11 .9l15-.4l6-.8l7 .7l6-.6l6 0l8 .9l7-.2l5 .6l20.1-.9l7 .9l7-1.5l6 1.2l6-1l6 1.1l8-.3l7 1.4l6-.2l11-1.3l13 1.1l8-.3l7 1.3l12-.6l5-.6l11 .5l10-1.3l6 1l5-.3l9 .2l6 1.2l13.1-1.3l7 .3l6-.8l7 1.3l6-1.5l6 1.4l4 .2l18-.4"/>
</g>
<text class="tick" text-anchor="end" x="164.6" y="177.7" textLength="50.1" lengthAdjust="spacingAndGlyphs">20</text>
<text class="tick" text-anchor="end" x="164.6" y="250.8" textLength="50.1" lengthAdjust="spacingAndGlyphs">10</text>
<text class="tick" text-anchor="end" x="164.6" y="323.8" textLength="25" lengthAdjust="spacingAndGlyphs">0</text>
<text class="tick" text-anchor="end" x="164.6" y="396.9" textLength="66.6" lengthAdjust="spacingAndGlyphs">-10</text>
<text class="tick" text-anchor="end" x="164.6" y="470" textLength="66.6" lengthAdjust="spacingAndGlyphs">-20</text>
<text class="tick" text-anchor="end" x="164.6" y="542.9" textLength="66.6" lengthAdjust="spacingAndGlyphs">-30</text>
<text class="tick" text-anchor="end" x="164.6" y="616.1" textLength="66.6" lengthAdjust="spacingAndGlyphs">-40</text>
<text class="tick" text-anchor="middle" x="206.2" y="679.6" textLength="87.2" lengthAdjust="spacingAndGlyphs">9:30</text>
<text class="tick" text-anchor="middle" x="425" y="679.6" textLength="112.1" lengthAdjust="spacingAndGlyphs">10:30</text>
<text class="tick" text-anchor="middle" x="643.6" y="679.6" textLength="112.1" lengthAdjust="spacingAndGlyphs">11:30</text>
<text class="tick" text-anchor="middle" x="861.8" y="679.6" textLength="112.1" lengthAdjust="spacingAndGlyphs">12:30</text>
<text class="tick" text-anchor="middle" x="1080" y="679.6" textLength="112.1" lengthAdjust="spacingAndGlyphs">13:30</text>
<text class="tick" text-anchor="middle" x="1298" y="679.6" textLength="112.1" lengthAdjust="spacingAndGlyphs">14:30</text>
<text class="tick" text-anchor="middle" x="1516.2" y="679.6" textLength="112.1" lengthAdjust="spacingAndGlyphs">15:30</text>
<text class="tick" text-anchor="middle" x="1733.3" y="679.6" textLength="112.1" lengthAdjust="spacingAndGlyphs">16:30</text>
<text class="atitle" text-anchor="middle" textLength="389" lengthAdjust="spacingAndGlyphs" transform="translate(70.2 383) rotate(-90)">Temperature in °C</text>
<path class="lk" stroke="#5B9BD5" d="M191.3 768.9H293.2"/>
<text class="leg" x="300.3" y="782.7" textLength="237.8" lengthAdjust="spacingAndGlyphs">TS_V_h4_F1</text>
<path class="lk" stroke="#ED7D31" d="M552.1 768.9H653.5"/>
<text class="leg" x="663" y="782.7" textLength="237.8" lengthAdjust="spacingAndGlyphs">TS_V_h3_F1</text>
<path class="lk" stroke="#A5A5A5" d="M914.6 768.9H1016.7"/>
<text class="leg" x="1026.3" y="782.7" textLength="237.8" lengthAdjust="spacingAndGlyphs">TS_V_h2_F1</text>
<path class="lk" stroke="#FFC000" d="M1277.5 768.9H1379.3"/>
<text class="leg" x="1388.8" y="782.7" textLength="237.8" lengthAdjust="spacingAndGlyphs">TS_V_h1_F1</text>
<path class="lk" stroke="#4472C4" d="M191.3 856.9H293.2"/>
<text class="leg" x="300.3" y="870.5" textLength="237.8" lengthAdjust="spacingAndGlyphs">TS_V_h4_F2</text>
<path class="lk" stroke="#70AD47" d="M552.1 856.9H653.5"/>
<text class="leg" x="663" y="870.5" textLength="237.8" lengthAdjust="spacingAndGlyphs">TS_V_h3_F2</text>
<path class="lk" stroke="#255E91" d="M914.6 856.9H1016.7"/>
<text class="leg" x="1026.3" y="870.5" textLength="237.8" lengthAdjust="spacingAndGlyphs">TS_V_h2_F2</text>
<path class="lk" stroke="#9E480E" d="M1277.5 856.9H1379.3"/>
<text class="leg" x="1388.8" y="870.5" textLength="237.8" lengthAdjust="spacingAndGlyphs">TS_V_h1_F2</text>
<path class="lk" stroke="#636363" d="M191.3 945.3H293.2"/>
<text class="leg" x="300.3" y="961.3" textLength="234" lengthAdjust="spacingAndGlyphs">TS_S_h4_F3</text>
<path class="lk" stroke="#997300" d="M552.1 945.3H653.5"/>
<text class="leg" x="663" y="961.3" textLength="234" lengthAdjust="spacingAndGlyphs">TS_S_h3_F3</text>
<path class="lk" stroke="#264478" d="M914.6 945.3H1016.7"/>
<text class="leg" x="1026.3" y="961.3" textLength="234" lengthAdjust="spacingAndGlyphs">TS_S_h2_F3</text>
<path class="lk" stroke="#43682B" d="M1277.5 945.3H1379.3"/>
<text class="leg" x="1388.8" y="961.3" textLength="234" lengthAdjust="spacingAndGlyphs">TS_S_h1_F3</text>
<path class="lk" stroke="#7CAFDD" d="M191.3 1035.7H293.2"/>
<text class="leg" x="300.3" y="1049.5" textLength="234" lengthAdjust="spacingAndGlyphs">TS_S_h4_F4</text>
<path class="lk" stroke="#F1975A" d="M552.1 1035.7H653.5"/>
<text class="leg" x="663" y="1049.5" textLength="234" lengthAdjust="spacingAndGlyphs">TS_S_h3_F4</text>
<path class="lk" stroke="#B7B7B7" d="M914.6 1035.7H1016.7"/>
<text class="leg" x="1026.3" y="1049.5" textLength="234" lengthAdjust="spacingAndGlyphs">TS_S_h2_F4</text>
<path class="lk" stroke="#FFCD33" d="M1277.5 1035.7H1379.3"/>
<text class="leg" x="1388.8" y="1049.5" textLength="234" lengthAdjust="spacingAndGlyphs">TS_S_h1_F4</text>
</g>
<g class="chart">
<text class="title" x="684" y="1213.8" textLength="432.5" lengthAdjust="spacingAndGlyphs">20mm, careful</text>
<path class="grid" d="M203.9 1300.4H1735.3M203.9 1373.5H1735.3M203.9 1446.9H1735.3M203.9 1519.6H1735.3M203.9 1592.7H1735.3M203.9 1665.5H1735.3M203.9 1738.7H1735.3M206.2 1298.2V1741M425 1298.2V1741M642.2 1298.2V1741M860.9 1298.2V1741M1078.3 1298.2V1741M1296.5 1298.2V1741M1514 1298.2V1741M1733.1 1298.2V1741"/>
<g class="series" clip-path="url(#clip1)">
<path stroke="#5B9BD5" d="M214.9 1288l9.6 107.7l3.5 28.8l4 25.7l5.9 28.5l7.2 27l8.3 24.7l4.2 10.2l4.3 9l3.8 7l3.9 5.8l4.4 5.4l5.5 5.9l6.5 6.2l6.9 5.8l7.3 5.3l8.3 5.5l15.9 8.6l17.5 7.4l19.9 6.5l24.3 6.3l30.4 6.2l18.7 2.9l12 1.1l20 1.3l31.9 2.9l6-.1l19 1.7l7 0l7 .6l6-.3l9 .7l12-.7l18.9-3.1l11.9-1.4l14 .5l21-2.2l17.1-.1l6 1l6 .4l20-1.7l8 1l7 2l11 1.1l2-.1l6-1.9l6-.2l6 1l7 .3l7 1.4l6-.2l6 .5l20-4.5l7 .4l6 1.1l6-.6l6 .2l21-3l11 1.2l9 2.1l13-1.1l5 .5l7-1.7l6 1.6l19.1 2.1l2-.1l6-1.6l14-1.2l6 .2l12 2l12-.1l14-3.1l6 1.2l6 .1l8 1.8l6.1 .5l7-.8l7-1.8l7-.9l9 .8l9 2.1l3 .2l15-1l14-2.1l7 1.2l6 1.5l12.1 .6l10-1.8l10-1.3l14 2.2l6-.4l6 .3l13-2l6-.3l2 .1l6 1.5l5-.2l8.1 1l7-.5l5 0l6-2.1l2-.2l12 1.1l8 1.7l7 .6l10-.7l8-1.2l6-1.5l13.1 1.8l6 1.7l3 .1l5-.3l5-1.6l7-1.2l7 .3l6 1.5l14-.8l13 1.8l19-2.1l6.1 .2l5-.5l15 2.2l10-2.2l5-.5l6 .3l10 1.7l7 .7l7-1.7l10-1.1l4 .3l7.1 1.5l11 1l11-2.6l3-.4l6 1.3l6 .6l5 1.5l2 .2l13-2.7l6 0l6-.9l2 .3l5 2l7 1l6.1-1.2l6-.3l6-.8l9 .7l5-.4l5 1.1l3 .1l5-.3l9-1.8l8-.3l3 .4l5 2.2l2 .3l13-2.1l6 .2l6.1-1.4l7 1.8l11 .4l21-2l7 1.2l6 1.7l7-1.3l18-1.8l3 .2l8.1 2.1l4 .5l4-.4l7-2l3-.4l8 .4l15 2l3 0"/>
<path stroke="#ED7D31" d="M215.8 1288l5.6 19.2l5 20.4l4.4 21.6l11.9 63.9l4.4 19.6l4.9 18.3l7.2 21.9l8.1 20.4l9.2 18.9l10.6 18.2l11.6 16.3l6.4 7.6l6.9 7.3l7.2 6.9l6.9 5.8l7.2 5.4l8.4 5.5l8.7 4.9l8.9 4.5l19.4 8.1l22.8 7.4l26.2 6.6l25.6 5l32.5 5.5l13.9 1.7l12.9 2.1l5.9 1.3l7 .4l23.8 3.6l7 .6l9-.4l11.9-1.1l13-1.8l21-.3l8-.7l11-1.7l11 0l8 1.4l6-.1l6 .8l7-2l8-.4l10 .9l9 1.7l6.1 .5l6-.7l5-.1l7-1l4-.1l5 .3l17 2.6l4 .1l4-.2l6-1.8l13-1.7l4 .2l10 1.4l6 0l6-.8l5 .3l14-3.1l12 1.9l7 1.7l5 .5l3-.2l6-1.6l6 0l7-1l7 .7l5.1 0l13 1.6l5-.4l10-2l7 .1l10 .8l14 2l25-3.2l6 .5l10 1.7l10 .4l9-1.9l6-.8l12.1 .9l13 2.4l18-3.3l4-.3l5 .4l11 2.1l8 .9l6-1.2l16-1.8l4 .2l12 1.8l4 .3l8-.2l8-1.8l8.1-.3l10 .6l13 1.5l7 .1l14-2.8l7 .8l6-.1l8 1.5l10 .7l16-2.8l6 .3l6 1.2l16 .9l3-.1l7-1.3l3.1-.2l13 .5l10 1.3l11-.8l28 .5l31-.9l14-.1l6 .4l14.1-.6l6 .7l6-.5l7 .2l20-.5l7 .2l5 .7l7-.7l6 .9l5 .2l22-.5l5-.7l14-.2l6 .7l13 .4l6.1-.7l7 .4l6-.6l7 .3l6-.6l6-.1l9 .9l12 0l6 .4l6-.9l7 .4l6-.5l14 1l6-.7l13-.4l6 .2l8-.5l26.1-.2l13 1.1l10-1.2l7-.4l8-.1l7 1l5-.9l3 0"/>
<path stroke="#A5A5A5" d="M215.2 1288l5.6 35.6l10.7 84.4l3.7 22.7l4.1 20.6l6.3 25.2l7.6 23.9l8.8 22.3l9.2 18.9l4.5 7.8l4.5 6.6l5.1 6.2l6.1 6.6l7.1 7l7.6 6.6l7.1 5.5l8.2 5.7l15.5 9.1l18.2 8.2l20.8 7.3l23.2 6.4l17.5 3.9l18.7 3.5l50.4 8.2l9 .8l9.9 1.6l32.7 5.8l14.9 1.8l12.9-.1l19-.8l21 .8l16-.4l7-1.2l8.1-.6l17 2.2l6 .3l3-.2l10-1.8l8-.6l20 3l8-.5l9-1.4l7-.4l4 .2l19 2.8l11.1-.2l11-1.8l4-.1l12 2.4l12 1l7-.3l8-1.8l6-.1l11 1.4l6 1.8l3 .5l18-1.7l7-1.1l12 1.2l6 1.4l4 .4l9-.5l9-2.1l9.1-.1l5 .5l9 2.1l4 .4l7-.5l18-2.4l11 1l9 1.7l5 .1l11-.7l8-1.6l4-.1l9 .7l13 2.6l7-.9l7-1.6l10.1-.8l4 .4l10 1.9l8 .8l10-1.1l10-1.6l14 1.5l11 .6l21-2.4l6 .3l17 2.3l7.1-.3l9-1.5l10-.7l13 1.3l7 1.1l6 .3l8-1.5l6-.4l7-1l8 1.4l10 1.1l12-.6l7-.9l4-.1l6 .2l10 1l11.1-.3l16 1.1l18-2.3l6 .1l8 1.4l4 .2l9-.3l9-1.5l10 .6l7 1.3l4 .3l18-2.2l10.1 1l7 1.2l4 .1l4-.4l8-1.8l6-.4l7 .8l8 2l3 .3l4-.3l13-2.5l4-.2l5 .4l6 1.5l4 .4l7 0l10-1.7l6-.2l19.1 2.2l14-2.5l5-.1l5 .6l7 1.9l6 .5l3-.2l5-1.3l8-1.2l8 .4l12 2l9-.6l12-1.6l7 .3l8 1.3l5 .3l20.1-2.1l4 .3l9 2.2l4 .4l4-.5l10-2.1l5-.4l5 .5l10 2l5 .3"/>
<path stroke="#FFC000" d="M215.9 1288l5.8 19.1l5 19.4l4.8 22.5l13.2 67.8l5.1 21.4l5.9 20.2l8.9 24.4l10 21.8l5.7 10.6l6.1 10.4l6.1 9.1l6.5 8.9l6.9 8.5l6.8 7.4l7.2 6.9l7.6 6.6l7.9 6l8.3 5.6l9.5 5.5l8.1 4.1l9.1 4l13.1 5l28.6 9.3l22.1 6.4l47.7 11.7l11.6 2.5l20.5 5.1l38.3 8.5l44-.9l14 1l26-2.2l6 .5l7 1.5l10 .4l16-2l11 1.5l10 1.9l5 .5l6 0l7-1.3l9-.3l9 .4l9 1.9l9 .6l6-.3l11-1.6l5-.1l14 2.7l10 .7l3-.1l14.1-2.1l6-.1l5 .4l7 1.6l11 1.1l7-.5l7-1.9l7-.6l14 2.1l10 .7l4-.2l13-1.8l5-.2l7 .4l12 1.8l12 0l7-1.5l13.1-1.1l20 3.3l6-1l16-1.6l10 .3l13 2.5l18-2.6l6-.3l13 1.9l9 .9l20-3l6 .5l6.1 1.1l6 0l7 1l25-2.5l6 .5l10 1.6l9 .3l6-.7l8-1.5l4-.2l24 2.3l13-1.4l11-.7l5 .4l10.1 1.8l11-.3l10-1.5l16 .1l7 .9l8-.7l5 .9l8 .7l11-.6l14-1.7l5 .2l10 1.4l8 .3l15-1.6l6.1 .4l9 1.3l22-1.6l17 1.6l19-2.3l8 .8l8 1.8l3 .3l15-2.5l9-.1l11 1.7l5 .3l5-.1l8-1.6l6.1-.2l6 .4l7 1.5l8-.2l4-.4l8-1.9l5-.5l11 2.4l5 .6l5-.2l6-1l10-.8l7 .3l7 1.7l3 .3l10-.5l7-1.7l5-.4l4 .3l9 2l4 .3l10.1-.8l14-2l4 .6l7 2.2l3 .4l13-2.6l10-.8l3 .4l6 2l8 .4"/>
<path stroke="#4472C4" d="M214.9 1288l8.2 104.8l3.5 30.8l4 26.8l5.9 29.4l6.9 27.2l8.1 24.7l4.1 10.2l4.2 9.1l3.3 6.2l3.8 5.8l4.3 5.5l5.4 5.9l6.5 6.2l6.9 5.8l7.2 5.4l7.6 4.9l15.8 8.6l17.5 7.5l19.9 6.6l23.3 6l36.3 7.4l23.7 3.5l39.9 3.9l24.9 1.7l6 .8l43.1 1.8l9.9-.9l5-1.1l8-1l5.9-.6l6-.1l7-1l18.9-.9l6 .1l6-1.9l7.1-.6l8 .7l6 1.3l6-.4l6 1l7-1.7l7-1.1l13 2.5l18 1.7l7 0l6-1.8l2-.2l5 .7l7 .3l8 1.8l9 .3l7-.8l8-2.4l3-.6l6-.3l11 1.1l7-.5l6 .5l7-1.8l5-.4l7-1.3l3 .3l17 3.8l7-.7l6 .5l8-1.5l17.1 1.2l9 1.6l10-.6l15-2.7l6 .2l8 2l11 .1l22-2.1l16.1 1.2l8 1.4l7-.8l7-1.6l11-1.1l8 .8l12 2.5l25-2.9l9.1 1.6l14 1.2l5-.5l6-1.8l7-.7l6 .6l6 .2l6 1.3l7 .7l20-2.9l6 .7l6-.2l6.1 2l3 .4l11-.6l8-1.7l8-.7l4 .2l13 2.3l6-.1l5 .6l4-.4l11-2.5l6 .7l6.1-.4l13 2.1l20-2.1l13 .5l6 1l13-.3l8 1.4l7-.6l5-.9l9.1-.6l17 1.1l6 1.1l7-1.1l6-1.7l5-.4l3 .2l12 2.8l7-1.2l15-1l5 .3l10.1 2l3 .3l6-.7l6-2.1l6 .2l6-.3l10 2.6l4 .5l6-1.4l6-.7l6-1.3l5-.3l4 .4l5 2.1l7 .8l6.1-1.1l6-.4l7-1.3l5 0l12 1.9l5 .1l9-1l8-1.6l5 .5l8 2.1l5 .3l21.1-2.9l7 1.7l6 .7l6 1.2l5-.5l8-2l6-1l2 .1l5 1.9l2 .3l11 .3l7-1.5l6 .2l7-.8l5 .3l7.1 1.6l5 .4l3-.4l6-1.8l7-.1l5-.8l13 3.4l3-.1"/>
<path stroke="#70AD47" d="M215.2 1288l4.9 34.7l9.9 82.4l3.6 23.8l4.1 21.6l6.4 26.3l7.3 23.9l8.8 23.4l9.1 18.9l4 7l4.4 6.6l5 6.2l6.1 6.6l7.2 7l6.8 5.9l7.9 6.1l8.3 5.6l15.7 8.9l18.3 8l19.9 6.8l23.1 6.3l34.3 7.1l50.4 8.3l17.8 2.1l20.9 3.7l11.9 1.3l7 1.3l17.9 1.4l7-.6l6.9 .3l6-.6l14-.3l20.1 .6l9-.6l9-1.5l9-.6l6 .3l11 1.9l6 .3l11-1.8l8-.7l6 .4l9 1.8l3 .3l7.1-.1l14-1.7l8-.3l6 .6l12 2.2l4 .3l9-.3l11-1.6l5-.1l13 2l11 1.1l7-.5l8-1.8l9-.1l3 .3l9 2.2l9 .9l8-.9l7.1-1.5l12-.2l7 1.4l12 1l6-.5l9-2l8-.1l7 .6l10 2.2l30-2.7l7 .6l12 2.2l3 .3l12-1.7l8.1-1.7l10 .8l10 1.7l4 .3l5-.2l13-1.9l6-.5l22 2.8l7-.5l8-1.6l6-.7l13 1.5l14 .8l10-1l7.1-1.3l5-.3l3 .2l6 1.2l5 .4l7 1.2l15-2.2l9-.6l25 2.3l21-2.2l6 .2l13 1.9l6 .2l4-.2l7.1-1.5l8-.3l4 .1l10 1.2l11-.3l12 1.1l11-.8l9-1.3l7 .2l7 1l10 .7l5-.2l14-1.8l6 .4l11 1.6l19.1-1.8l8 .6l7 1.2l4 .2l5-.4l7-1.5l7-.3l5 .4l8 1.7l7 .2l8-.9l10-1.8l9 .9l10 1.9l6-.5l13-2l4 .2l14.1 1.9l5 0l16-2.7l9 2l10 1.1l5-.3l8-1.8l5-.4l4 .2l11 1.9l4 .3l8-.3l7-1.4l4-.4l4 .1l9 1.4l6 .4l22.1-2.1l3 .2l7 1.7l7 .5l17-2.7l4 .3l11 1.9l6 .3"/>
<path stroke="#255E91" d="M214.6 1288l1.5 52l2 39l2.7 34.9l3.7 32.9l5.1 32.6l6.6 31.3l6.8 25.1l3.6 10.4l3.8 9.3l3.5 7.2l3.5 6l4 5.8l4.4 5.4l4.9 5l6 5.2l6.4 4.8l7.5 4.9l16.7 9.2l14.6 6.4l21.9 7.3l26.1 7l32.3 7l45.4 8l39.6 5.9l17.9 1.7l18.9 2.5l14 1.1l13.9 1.6l12-.6l6 .2l7-.8l7 .2l6-.5l14 .7l6-.5l6 .2l18.1-2.6l5-.2l4 .3l6 1.3l12 .9l15-2.3l10 .3l11 1.4l5 .2l6-.3l10-1.5l6-.2l8.1 .5l15 2.4l11-.3l7-1.7l7-.7l5 .5l7 1.6l8 1l12-.5l9-1.9l5-.3l6 .7l8 1.7l10.1 .9l22-2.7l19 2.4l10 .1l3-.4l6-2l6-.6l8 .7l10 2.2l3 .4l8-.6l19.1-2.7l5 .3l13 2.4l5 .3l12-.8l8-1.9l4-.2l4 .2l14 2.8l4 .3l21-3.2l13.1 1.8l12 .6l6-.1l12-2l5-.4l4 .2l13 2.2l10-.2l16-2.2l11 .5l7.1 1.5l6 .4l11-1.1l8-1.6l3-.2l5 .2l6 1.1l5 .2l13 1.3l14-2.1l4-.2l8 .1l8 1.7l11 .5l5.1-.4l10-1.9l14 1.3l15-.1l16 1.2l7-1.1l11-1l7 .2l7 1.5l3 .2l9-.4l13.1-1.6l7 .3l9 1.6l20-1.9l10 .7l9 1.5l19-2.6l6 .5l10 2.2l4 .3l5.1-.4l9-1.9l7-.5l4 .2l13 2.4l16-2.1l6-.3l14 1.6l4 .1l18-2.5l4 .5l8 1.9l7.1 .9l4-.5l9-2.1l3-.2l5 .3l7 1.2l11 1.3l5-.4l12-1.9l8 .3l9 1.7l12-.9l8-1.5l8.1 .5l9 1.9l4 .3l3-.4l8-1.9l10-.6l3 .3l9 2.2l5 .4"/>
<path stroke="#9E480E" d="M215.7 1288l5.7 21.3l4.8 21.5l12.3 68.9l4.5 22.6l4.5 19.5l5.2 18.3l4.4 13.3l4.5 12.2l5 12l5.5 11.8l5.6 10.6l6 10.4l6.6 10l6 8.1l6.4 7.6l7.6 8l8.1 7.5l7.7 6.3l8.1 5.8l8.5 5.4l8.8 4.8l9.9 4.7l17.7 7.1l20 6.4l91.1 23.4l38.2 8.2l15.7 3.9l7.9 1.3l39-.9l20 .6l25-1.7l6 .5l10 1.9l7 .5l17-2.2l9 .7l12.1 2.1l5 .4l8-.3l9-1.7l3-.1l7 .6l15 2.4l7 .7l5-.3l9-1.6l4-.2l8 .3l8 1.5l13 1.3l7-.8l10-1.9l3-.2l10.1 1.5l8 2.2l4 .3l4-.2l7-1.3l15-1.1l23 2.7l5-.6l14-2.6l7 .3l11 2l7 .6l14.1-1.3l6-1.3l3-.1l10 .7l7 1.9l7 .7l22-3.4l6 .3l12 2.4l4 .3l7-.3l15.1-2.5l18 2.1l12 .5l13-2.2l4-.3l4 .1l7 1.3l12 .9l13-1.2l7-1.3l4 0l8 .5l7.1 1.6l4 .2l12-.7l9-1.6l3-.2l6 .3l14 2.2l6 .4l5-.2l8-1.7l10-.8l3 .1l12 2.1l8 .3l4.1-.2l8-1.5l5-.4l14 .9l17 0l7 .9l7 .3l7-.5l6-1.4l4-.2l6 .1l9 1.6l7 .4l5-.3l14.1-2l7 .7l7 1.6l24-2l16 2.1l13-2.1l10-.3l3 .3l9 2.3l3 .3l19.1-3.3l4 .2l11 1.9l9 .4l11-1.6l5-.3l5 .4l8 1.3l9-.2l16-2.3l9 2.3l7.1 .8l5-.2l6-1.2l8-.9l8 .4l9 1.6l6 .6l4-.3l9-2l4-.4l4 .2l10 1.7l6 .4l9-.8l7-1.3l4-.2l5.1 .4l7 1.4l5 .6l12-2l10-.7l4 .6l10 2.3l3 .2"/>
<path stroke="#636363" d="M214.7 1288l3.4 63l2.4 34.9l3.2 33.9l4 29.7l5.6 31.5l6.9 29.2l7.6 24.9l3.9 10.3l4.1 9.1l3.7 7.1l4.4 6.7l5.5 7.1l6.6 7.5l7.8 7.8l7.5 6.6l7.9 6.1l7.5 5l13.1 7.2l13.9 5.6l22.1 6.6l29.1 7.3l31.3 6.6l37.6 5.5l37.9 4.3l13.9 .7l13 1.9l37 2.2l20.9-1.4l6 .2l8-.4l6 .4l6-.7l6 .5l6-.2l3-.4l6-1.6l12-1.7l17 1.6l5 .1l5-.7l11-2.4l6-.6l7 .2l11 1.4l9-.1l14-2.4l6 .4l5-.4l6 .2l7 1.1l3 .1l6-.8l6-1.5l5-.4l8-2.3l4.9-.2l20 1.1l16-3.2l6 .2l10 .9l13 2.4l8-1.3l6-.5l5-1l6-.4l3 .3l6 1.9l16 .3l3-.3l8-2.1l5.1-.5l12 1.1l8 1.6l7-.3l4 .3l21-2.8l7 1.4l5 .4l8 1.3l12-1.1l6-1.5l7-.7l20 2.9l5-.3l10-1.4l8-.5l17.1 1.8l11 .3l19-2.8l8 .9l6 1.4l3 .2l5 0l6-1l5-.1l13-1.5l7 .6l8 1.7l10 0l16-2.7l18 1.6l6 1.2l3.1 .2l10-.6l14-2.5l13 2.3l4 .2l6-.1l11-1.5l11-.3l11 1.3l13-.1l15 .8l15-2.1l5-.3l11 2.2l4 .3l6-.3l17.1-2.1l15 2.4l19-2.5l14 1.5l9 .4l3-.3l7-1.7l5 .1l5-.5l3 .3l5 1.9l2 .4l8-.1l11-1.8l7-.4l5 .5l9 1.8l4 .4l6.1-1.3l11-1.4l6-.2l16 2l14-2.3l5-.3l9 2.1l6 .6l10-.4l7-1.8l6-.5l7 .6l6 2.1l3 .4l8-.6l10-2.2l20 2.4l5.1-.9l13-.9l7-1.1l4 .5l7 1.8l5 .5l3-.1l10-1.9l5-.4l9 1l8 1.7l3 0"/>
<path stroke="#997300" d="M215 1288l10.5 107.6l3.2 25.8l3.8 23.7l5.4 26.5l6.5 25.1l7.7 23.8l7.8 19.5l7.9 15.1l3.8 5.8l4.9 6.3l7.9 9.1l8.3 8.7l8 7.5l8.4 7.1l14.7 10.5l7.7 4.6l8 4.1l15.7 6.5l17.3 4.9l38.1 8.4l37.4 6.7l35.7 5.4l34.7 4.6l7 .3l7 1.1l22.9 2l15-.4l13-.8l7 .3l6-.7l8 .7l11-.2l14-1.8l9-.4l20 1.7l9-.5l8-1.6l22 3.1l10 .5l10-1.1l9-.4l17.1 2.6l4 .3l17-2l7-1.5l15 1.6l6 .4l10-.8l15-2.3l10 1.3l11 2.2l11-.5l8-1.4l11-.2l20 3l3-.4l12-2.6l11-.1l11.1 2l8 .6l7-.5l13-2.2l6-.5l17 2.6l8 .3l15-2.5l6-.1l7 .8l9 1.9l4 .2l5-.2l10-1.9l7-.6l17 1.9l11.1 .4l3-.3l7-1.7l6-.7l6 .5l7 1.2l16 .7l10-1.5l11-1l19 2.6l13-1l7-1.3l3-.1l11 .7l14 1.9l11.1-.9l9-1.8l8 .3l11 1.5l5 .4l11-.5l9-1.5l6 .7l12 .5l13-.2l12 1.2l8-.2l9-1.6l6-.1l11 1.5l6 .5l6-.5l9.1-1.7l11 .6l13 1.6l8-1.4l11-1l3 .3l7 1.6l9 .6l3-.2l8-1.9l7-.5l5 .5l8 1.9l4 .5l6-.6l10-2l5-.4l5 .4l11 2.1l4 .2l4-.2l8.1-1.7l5-.6l16 2.2l6-.2l13-1.9l4-.2l10 2l6 .6l8-.4l8-1.9l6-.4l3 .2l11 2.3l6 .5l19-2.7l13 1.8l4 .2l10.1-.4l6-1.4l5-.4l4 .3l8 2.1l4 .6l3-.2l13-2.2l7-.6l3 .3l7 1.7l7 .6"/>
<path stroke="#264478" d="M215.1 1288l3.7 30.8l8.5 80.6l3.3 24.8l3.7 21.8l5.4 25.4l6.6 24.1l7.6 22.8l8.1 19.4l7.9 15.1l3.8 5.8l4.9 6.4l7.9 9l8.2 8.7l8 7.6l8.4 7.1l14.6 10.5l7.8 4.6l8 4.1l15.7 6.5l17.3 5l36.2 7.8l68.9 13l28.7 4.2l16.8 3.7l18.8 2l8 1.4l26-.7l12-1l15 .4l12-.4l5 .5l7-1.8l10-.8l4 .3l6 1.9l8 .4l5-.3l7-1.4l7.1-.4l20 2.5l10 .5l9-1.2l7-.3l12 1.4l5 0l6 1.7l2 .1l12-.6l6-2l6-.6l3 .2l11 2.1l7-.1l6 .8l7.1-1l5-1.7l3-.4l16 .9l10 1.7l29-2.4l12 1.7l7 .5l4-.2l17.1-2.8l21 3.4l5-.7l6-.2l20-2.3l7 .9l7 2.1l6 .7l10-1.3l10.1-2.1l11 .8l9 1.9l4 .2l3-.1l11-1.7l6-1.3l2 0l5 .9l6 .1l14 2.1l7-.7l5-1.3l8-1.3l11.1 .8l7 1.4l6 .5l4-.2l11-1.6l7-.5l6 .5l5-.4l11 1.8l8 .4l8-1.8l6-.1l6-.9l7.1 1.4l16 1l7-.4l12-1.4l8 .4l10 1.7l9 .1l8-.5l7-1.2l12-.2l8 1.1l11.1-.3l15 1.4l19-2.6l4 .1l9 1.5l5 .3l8 .2l7-1.5l3-.2l22.1 1.8l8-1.2l12-1.1l9 1.7l10 .8l13-2.4l3-.1l6 .5l9 2.5l3 .3l6-.5l7-2l7-.9l19.1 2.8l6-1.2l6 0l7-.9l8 .7l4-.2l6 .7l6 0l9-1.8l3-.2l7 .3l8 1.7l7 .7l19.1-2.7l3 .3l5 1.5l6 .2l6 .9l6-.1l11-2.2l3-.3l12 2.3l3 .3l5-.3l6-1.2l8-.9l9 .2l3.1 .5l5 1.8l2 .2l3-.3l16-3.2l6 .7l10 2.3l5 .2"/>
<path stroke="#43682B" d="M215.2 1288l5.1 34.7l10 81.4l3.3 21.8l3.7 19.7l5.6 24.4l6.7 23l7.7 21.7l8.4 19.3l8.6 15.8l8.8 12.1l7.9 9l7.6 8l8.1 7.5l7.6 6.4l14.7 10.4l7.8 4.6l8 4.1l8.2 3.7l8.4 3.2l17.3 5l94 20l39.6 6.4l25.8 3.3l5.9 1.8l8 1.1l4.9-.6l14-.7l6 .5l14-.8l19.1 .3l6 .8l7-1.2l6-.3l5-.9l3-.1l7 .5l12 2.2l13-1.6l11 .1l21 3.6l7-.6l7-1.2l10-.3l21 3.3l7-.4l5 .2l8.1-1.6l10-.2l17 2.5l10-.3l8-2l7-.3l24 3.3l8-.7l6-1.6l7.1-.6l14 1.8l5 .2l7 1.2l13-3.3l6 .5l6-.7l3 .4l10 2.8l4 .2l10-.8l7-1.8l11-1l16.1 3.1l16-1.3l9-1.8l6 .1l7 .9l7 1.9l5 .7l6-.4l8-1.8l10-.5l8 .5l7 1.3l7.1-.1l6 .6l12-2.4l5-.4l21 2.4l4-.1l11-1.6l9-.4l9 .3l13 1.9l15.1-2.1l11-.6l7 .4l7 1.9l7 .6l13-2l11-.9l7 .2l14 2.3l12-.7l7-1.9l13.1 1.6l7-.3l13 .7l13-.1l5 .4l8-1.6l6-.4l19 2.6l7-.8l6-1.8l5-.4l3.1 .3l5 1.6l8 1.1l12-1.6l7-.2l5-1l15 2.4l11-.9l6-1.4l4-.1l4 .4l6 1.9l3 .4l7-.2l11.1-2.2l5-.4l4 .1l12 1.8l9 .6l11-1.5l5-.3l4 .2l8 1.2l10-.1l15-2.4l9 2.4l5 .8l7.1-.4l11-2.2l4-.3l4 .2l7 1.7l16 .8l2-.1l5-1.7l3-.4l23 2.2l9-1.4l12-.9l10.1 1.8l8 .9l8-1.4l5-1.6l2-.2l17 3.3l4 .2"/>
<path stroke="#7CAFDD" d="M214.6 1288l1.5 52l1.9 39l2.8 34.9l3.7 32.8l5.3 33.7l6.7 31.3l6.8 25.1l3.6 10.4l3.9 9.2l3.6 7.1l3.5 6.1l4.1 5.7l4.5 5.3l4.9 4.9l5.3 4.6l6.5 4.7l7.5 4.9l16.7 9.2l14.6 6.3l21.9 7.3l26.1 7l32.3 7l45.3 8l44.6 6.6l18.9 1.6l14 1.9l12.9 .9l7 1.2l6 0l6 .5l7-.7l13 .4l7-1.1l26 .4l6-.7l6 0l7-1.7l12-.4l8.1 1.8l9 .5l5-.4l12-2l13 1.2l5 .1l8 1.5l6-.9l6-.2l5-1.3l3-.3l5 .8l7-.1l8 1.6l6 .6l8-.5l13.1-1.9l4-.3l8 1.4l17 1.8l7-.3l10-2.2l4-.4l11 1.5l7 2l2 .2l11-.5l7-1.7l7-.8l25.1 2.8l15-2.7l6-.1l6 .9l6 .1l5 1.6l3 .4l30-3.1l15 2.9l6 .2l6-.3l7.1-1.5l7-.8l12 .3l9 1.9l6-.3l12-1.6l11-.7l7 .8l7 1.6l8 .5l6-.7l6-1.8l10-.7l8 .6l12.1 1.6l7 .2l2-.2l6-1.7l8-.6l17 1.2l8 1.4l13-2.2l7-.6l18 1.4l6 1.4l2 .1l11-1l7.1-1.7l5-.3l3 .1l6 1.1l6 .6l6 1.3l7-1.3l5 0l14-1.5l7 .7l6 1.1l7-1.1l6 1.1l13 1l9-.9l10.1-1.7l3 .2l5 1.2l12 .7l19-2.5l8 1.5l10 .8l21-2.1l15 2.3l19-2.7l8.1 .8l11 2.3l5-.3l10-1.7l6-.3l23 2.2l2-.2l5-1.7l4-.5l9-.1l7 1.8l3 .1l9-.3l14.1-2.2l6 .8l6 2.2l2 .3l13-1.8l5-.1l6-.8l16 1.8l9 .4l2-.1l7-1.7l5-.2l9 1.6l6 .4l20-2.3l10.1 1l7 2.2l2 .2l14-2.8l7-.6l5 .5l11 2.5l3 .1"/>
<path stroke="#F1975A" d="M215 1288l10.5 107.6l3.2 25.8l3.8 23.7l5.4 26.5l6.5 25.2l7.7 23.8l7.9 19.4l7.8 15.1l3.9 5.8l4.8 6.4l7.9 9l8.3 8.7l8 7.6l8.3 7.2l14.6 10.5l7.7 4.6l8 4.2l15.7 6.5l17.3 5l44 9.5l18.7 3.5l31.6 5.1l12.9 1.6l7 1.3l12.9 1.6l5.9 .2l7 1.5l25.9 2.4l6 1.4l7.9 .8l11-.8l7 .3l7-1.2l6 .8l13-1.1l14.1 1.3l9-.7l15-2.3l6-.3l21 2.5l14-2.6l7 .6l18 3l8 .2l18-2l25 3.4l4-.4l5-1.1l5-1.7l4-.5l5-.1l11 1.8l7 .1l7-.4l14.1-2.1l9-.3l6 .8l8 2l5 .6l16-1.8l11-.1l8 1.7l6 0l6 .8l7-.2l7-2.2l6-.7l12 1.1l14 2l8-.9l13.1-2.2l10 .4l10 1.9l9 .5l17-2.4l10-.2l2 .3l6 2.1l6 .5l7-1.3l13-1.2l5-1l13 2.6l3.1 .3l6 0l12-1.9l6-.1l6-.8l7 1.9l6-.2l7 1.2l7-.5l6-1.6l12-.9l15 2.1l11 .6l12-2.4l3-.2l6.1 .7l6-.3l6 1.8l8 .8l7-.5l11-2.1l6-.5l4 .3l11 2.4l12-.1l8-1.8l10-.4l14 1.9l13-.9l6.1 1.5l2 .2l6-.3l6-1.3l12-1.1l6 .2l7 1.7l6 .4l17-2.1l8 .5l15 1.7l15-2.3l6 .5l6 1.2l6 0l5.1 .5l6-.8l7-1.5l6-.4l5 .7l8 2.6l2 .3l6-.6l6-2l4-.6l6 0l11 1.8l10 .4l3-.3l9-1.9l6-.3l4 .4l10 2l3 .1l6-.5l13.1-2.6l8 2.6l17 .5l11-2.1l3-.3l7 1.6l12 1.5l2-.1l6-1.6l9-1.1l4 0l10 1.9l6 .5l8-.7l13.1-1.8l7 .6l6 2.4l2 .2l6-1.5l6-.7l7-1.6l15 2.6l6 .4"/>
<path stroke="#B7B7B7" d="M215.3 1288l6.6 37.5l11.8 85.2l3.7 20.7l4.1 19.6l6.7 25.1l7.5 22.8l8.7 21.3l9.5 18.7l5.1 8.6l4.6 6.6l5 6.2l6.7 7.4l7.9 7.7l7.5 6.6l7.9 6.1l8.3 5.6l15.6 9l18.3 8l17.1 5.7l27.1 7.1l35.1 8.2l26.4 5.7l9.8 1.7l9.8 2.4l19.7 3.3l6 .7l6.9 1.6l11.9 1.5l14.8 3.1l10.9 1.1l9-.2l18-1.7l6 .1l12-.6l8 .9l12-.2l15-1.5l6 .3l7 1.6l7 .5l18-1.2l6-.8l15 3.6l6 .7l6 0l10-2l4-.3l9 1l10 1.9l11 .7l21.1-2.9l6 .6l7 1.7l6-.2l6 1l7-.6l8-2.1l10-.2l16 3l18-1.5l7-1.6l6 1.4l6 0l13 2.1l6-.6l8-2.3l6.1-.6l25 3.5l9-1.2l12-2.3l26 3.7l12-1.4l7-1.7l6-.4l8 1.2l8 1.8l4 .3l6-.4l8-2l8-.1l10 .5l14.1 2l13-2.4l11-.9l16 2.4l9-.4l16-2l12 .5l6 1.5l4 .4l9-.3l9-1.5l10-.5l6 .1l3 .3l5 1.7l9.1 1l5-.3l19-3l6 .3l6 1.9l6 .6l11-.5l10-2l14 1.1l15-.3l16 1.9l7-.5l7-2l14 1.2l5 .1l6 1l7.1-1.2l12-1.3l6 .4l7 1.4l6 .6l8-1.6l6 0l6-.7l12 1.9l7 .7l11-2.3l8-.5l4 .4l9 1.9l7 .5l12-2.6l4-.3l11 1.1l5 1.7l2 .3l6.1-1.3l6-.3l7-1.4l8 1.2l13 .7l10-.8l8-1.2l4 .3l7 1.4l8 1l4-.3l11-2l5-.3l6 .8l7 1.7l5 .4l4-.3l12-2.3l14 2l9.1 .6l14-2.6l5-.2l5 .5l9 2l4 .3l3-.3l14-3l7 1.2l8 2l4 .4l2-.2"/>
<path stroke="#FFCD33" d="M215.5 1288l4.8 20.5l4 20.6l10.5 66.2l3.9 22.7l4.3 20.5l4.7 18.5l7.7 24.8l9.1 23.3l10 20.7l5.4 9.6l5.9 9.3l5.3 7.2l5.9 6.9l6.9 7.2l7.4 6.7l7.8 6.3l8.2 5.7l8.5 5.3l8.7 4.8l18.2 8.3l16.9 6.1l25 7.3l41.8 10.6l41 9.1l17.7 2.8l13.8 2.9l18.8 3l7.9 1.8l10.9 1.3l14-.8l7-1.2l6 .1l7-1.3l13 .7l5-.6l8-.2l6 .5l7-1.9l11 .6l19 2l15-1.6l12 0l10 2.9l5 .8l7-.4l6-.9l6 .2l6-.6l6 1.5l15 2.6l7-.3l14-1.7l6 .1l16 1.9l6 .2l8-.4l7-1.6l6 .3l5-.3l3 .5l12 3.6l12-.7l14-1.7l6 1.1l6 .3l8 1.8l10-.5l11-1.9l8-.3l4 .4l10 2l7 .4l8-.9l7-1.4l11-.9l7 .4l12.1 2l7 0l8-1.7l8-.4l10 .4l8 1.4l3 .2l7-.2l8-.9l8-1.6l6 1l5 .2l8 1.1l11 .3l21-2.6l7 1.9l6 .1l7 1.1l19-3l5-.3l3.1 .2l6 1.5l7 .7l6-.1l5 .4l12-1.7l5-.2l9 .4l13 1.7l5 .3l3-.2l6-1.8l12-1.2l2 .1l6 1.4l18 1.3l9-1.7l5-.3l18 1.5l10-.8l12.1 1.3l5-.6l7 0l13-2.1l14 2.7l7-.5l6-1l10-.4l6 .3l15 1.7l14-2.5l13 1.9l11 .8l2-.3l5-2l3-.4l7 .1l5 .8l6 1.4l3 .3l8-.3l9.1-2.2l10-.2l14 2.3l5-.2l12-1.5l7-.2l3 .2l6 1.4l6 .4l7-.5l6-2.1l6-.7l3 .3l7 2.1l10 1.3l7-1.1l6-1.8l4-.3l9 .6l6 2.1l2 .3l5-.6l7 0l5-1.7l3-.4l6 .2l13.1 2.4l21-2.5l7 .4l7 1.3l7 .5l12-2.1l6-.5l10 1.2l6 1.8l3 .1"/>
</g>
<text class="tick" text-anchor="end" x="164.6" y="1313" textLength="50.1" lengthAdjust="spacingAndGlyphs">20</text>
<text class="tick" text-anchor="end" x="164.6" y="1385.7" textLength="50.1" lengthAdjust="spacingAndGlyphs">10</text>
<text class="tick" text-anchor="end" x="164.6" y="1460.4" textLength="25" lengthAdjust="spacingAndGlyphs">0</text>
<text class="tick" text-anchor="end" x="164.6" y="1534.4" textLength="66.6" lengthAdjust="spacingAndGlyphs">-10</text>
<text class="tick" text-anchor="end" x="164.6" y="1608" textLength="66.6" lengthAdjust="spacingAndGlyphs">-20</text>
<text class="tick" text-anchor="end" x="164.6" y="1681" textLength="66.6" lengthAdjust="spacingAndGlyphs">-30</text>
<text class="tick" text-anchor="end" x="164.6" y="1754" textLength="66.6" lengthAdjust="spacingAndGlyphs">-40</text>
<text class="tick" text-anchor="middle" x="206.2" y="1814.8" textLength="87.2" lengthAdjust="spacingAndGlyphs">9:30</text>
<text class="tick" text-anchor="middle" x="425" y="1814.8" textLength="112.1" lengthAdjust="spacingAndGlyphs">10:30</text>
<text class="tick" text-anchor="middle" x="643.6" y="1814.8" textLength="112.1" lengthAdjust="spacingAndGlyphs">11:30</text>
<text class="tick" text-anchor="middle" x="861.8" y="1814.8" textLength="112.1" lengthAdjust="spacingAndGlyphs">12:30</text>
<text class="tick" text-anchor="middle" x="1080" y="1814.8" textLength="112.1" lengthAdjust="spacingAndGlyphs">13:30</text>
<text class="tick" text-anchor="middle" x="1298" y="1814.8" textLength="112.1" lengthAdjust="spacingAndGlyphs">14:30</text>
<text class="tick" text-anchor="middle" x="1516.2" y="1814.8" textLength="112.1" lengthAdjust="spacingAndGlyphs">15:30</text>
<text class="tick" text-anchor="middle" x="1733.3" y="1814.8" textLength="112.1" lengthAdjust="spacingAndGlyphs">16:30</text>
<text class="atitle" text-anchor="middle" textLength="389" lengthAdjust="spacingAndGlyphs" transform="translate(70.2 1520.3) rotate(-90)">Temperature in °C</text>
<path class="lk" stroke="#5B9BD5" d="M191.3 1906.7H293.2"/>
<text class="leg" x="300.3" y="1920.5" textLength="237.8" lengthAdjust="spacingAndGlyphs">TS_V_h4_F1</text>
<path class="lk" stroke="#ED7D31" d="M552.1 1906.7H653.5"/>
<text class="leg" x="663" y="1920.5" textLength="237.8" lengthAdjust="spacingAndGlyphs">TS_V_h3_F1</text>
<path class="lk" stroke="#A5A5A5" d="M914.6 1906.7H1016.7"/>
<text class="leg" x="1026.3" y="1920.5" textLength="237.8" lengthAdjust="spacingAndGlyphs">TS_V_h2_F1</text>
<path class="lk" stroke="#FFC000" d="M1277.5 1906.7H1379.3"/>
<text class="leg" x="1388.8" y="1920.5" textLength="237.8" lengthAdjust="spacingAndGlyphs">TS_V_h1_F1</text>
<path class="lk" stroke="#4472C4" d="M191.3 1994.7H293.2"/>
<text class="leg" x="300.3" y="2008.8" textLength="237.8" lengthAdjust="spacingAndGlyphs">TS_V_h4_F2</text>
<path class="lk" stroke="#70AD47" d="M552.1 1994.7H653.5"/>
<text class="leg" x="663" y="2008.8" textLength="237.8" lengthAdjust="spacingAndGlyphs">TS_V_h3_F2</text>
<path class="lk" stroke="#255E91" d="M914.6 1994.7H1016.7"/>
<text class="leg" x="1026.3" y="2008.8" textLength="237.8" lengthAdjust="spacingAndGlyphs">TS_V_h2_F2</text>
<path class="lk" stroke="#9E480E" d="M1277.5 1994.7H1379.3"/>
<text class="leg" x="1388.8" y="2008.8" textLength="237.8" lengthAdjust="spacingAndGlyphs">TS_V_h1_F2</text>
<path class="lk" stroke="#636363" d="M191.3 2083.1H293.2"/>
<text class="leg" x="300.3" y="2097" textLength="234" lengthAdjust="spacingAndGlyphs">TS_S_h4_F3</text>
<path class="lk" stroke="#997300" d="M552.1 2083.1H653.5"/>
<text class="leg" x="663" y="2097" textLength="234" lengthAdjust="spacingAndGlyphs">TS_S_h3_F3</text>
<path class="lk" stroke="#264478" d="M914.6 2083.1H1016.7"/>
<text class="leg" x="1026.3" y="2097" textLength="234" lengthAdjust="spacingAndGlyphs">TS_S_h2_F3</text>
<path class="lk" stroke="#43682B" d="M1277.5 2083.1H1379.3"/>
<text class="leg" x="1388.8" y="2097" textLength="234" lengthAdjust="spacingAndGlyphs">TS_S_h1_F3</text>
<path class="lk" stroke="#7CAFDD" d="M191.3 2171.1H293.2"/>
<text class="leg" x="300.3" y="2185.2" textLength="234" lengthAdjust="spacingAndGlyphs">TS_S_h4_F4</text>
<path class="lk" stroke="#F1975A" d="M552.1 2171.1H653.5"/>
<text class="leg" x="663" y="2185.2" textLength="234" lengthAdjust="spacingAndGlyphs">TS_S_h3_F4</text>
<path class="lk" stroke="#B7B7B7" d="M914.6 2171.1H1016.7"/>
<text class="leg" x="1026.3" y="2185.2" textLength="234" lengthAdjust="spacingAndGlyphs">TS_S_h2_F4</text>
<path class="lk" stroke="#FFCD33" d="M1277.5 2171.1H1379.3"/>
<text class="leg" x="1388.8" y="2185.2" textLength="234" lengthAdjust="spacingAndGlyphs">TS_S_h1_F4</text>
</g>
<g class="chart">
<text class="title" x="679" y="2351.6" textLength="434" lengthAdjust="spacingAndGlyphs">10mm, careful</text>
<path class="grid" d="M203.8 2438.7H1732.5M203.8 2511.5H1732.5M203.8 2584.4H1732.5M203.8 2657.5H1732.5M203.8 2730.5H1732.5M203.8 2803.7H1732.5M203.8 2876.4H1732.5M206.1 2436.4V2878.7M422.2 2436.4V2878.7M642.2 2436.4V2878.7M858.7 2436.4V2878.7M1078.3 2436.4V2878.7M1294.6 2436.4V2878.7M1513.9 2436.4V2878.7M1730.3 2436.4V2878.7"/>
<g class="series" clip-path="url(#clip2)">
<path stroke="#5B9BD5" d="M219.3 2426l17.7 87.3l6.2 27.3l6.3 24.2l7.1 24l7.5 21.8l8 19.4l8.3 17.1l9.1 15.5l9.2 13.1l9.3 10.4l9.8 8.6l11.6 7.7l13.5 6.7l15.9 6l16.4 4.2l22.7 4.2l20.9 2.4l43.9 2.3l17.1 .2l13 .7l7-.1l13 .8l6 1.1l10 .2l18.8 3l9.6 2.4l11.6 4l4.8 1l17.9-.9l12-1.8l13 1.9l13 .1l5 1.5l3.9 .5l17 1l13 1.3l5.9-.6l26 3.4l7 .5l7-.2l6 .6l6-.7l8 1.3l18-1l6 .5l7 0l7-.9l6 1.2l6 .4l7-1.4l11 1.4l3 0l6-.9l6 1l12-.9l28.1 .4l13-.8l11 1.1l8-1l6 1.2l8-.2l5-.5l7 .6l13-.8l13 1l8-.2l11-1.3l11 .9l9-.1l6 1.1l6.1 .2l12-.9l8 .2l6 .7l7-.9l13 .5l26-.3l13 .8l7-1.1l18 1.2l13-.1l8-.7l11.1 .8l8-.1l6 .4l13-.9l7 .7l6-.4l13 .3l7-.7l15 .7l19 .1l6-.1l6-.7l5 .5l6 .1l20.1-.6l7 1.3l7-.9l6 .9l7 .1l19-1.1l7 1.2l6-.9l7 .7l6-1.1l13 1.1l7-.8l19 1.2l6-.8l9.1 .1l5 .2l6 .9l6-1.4l4-.2l4 .1l6 1.1l5-1l2 0l12 1.2l6-1l14 1l6-1.2l7 1.1l6-1l12-.3l8 1.4l8-.6l10-.1l7.1 .4l9-.4l5 .1l6 .8l7-.7l6 1l7-.8l13 .8l6-.9l6 .7l13 .4l7-1.2l6 .8l14 .5l6-.6l7 .3l26.1-.8l19 1.1l6-.7l8 .4l6-.9l13 .7l8-.2"/>
<path stroke="#ED7D31" d="M218.6 2426l17 90.5l6.1 28.4l6.2 25.2l7.1 25.1l7.3 21.8l7.4 18.6l8.3 17.1l8.7 14.6l10 13.8l10.7 11.8l11.4 9.8l6.5 4.6l6.8 4.2l14.4 7.1l15.9 5.9l18.3 4.9l18.7 3.5l32.8 4.1l20.7 3.2l59.2 10.6l6.9 1.7l7.9 1l11.8 2.4l5.9 .6l6.9 1.6l7 .4l5.9 1.4l12.9 1.4l6.9 .1l12 2.4l7 .1l7 1.1l25.9 2.2l13-.5l6 1l13-.6l6 .8l13-.2l13 1.2l6-.7l13 .2l8.1-.6l19 1l13-.2l7-.9l6 .6l6-.5l6 .8l11-.6l9 .3l14-.3l13 .2l6.1 .5l12-.8l8 .4l14-.8l34 .9l16-.5l13 .5l6-.5l8 .3l11.1-.7l8 .7l7-.4l13 .7l11-.3l7-.6l10 1l18-.5l5-.5l7 .8l19-.8l7 .8l13.1-.6l13 .2l6-.4l7 .6l6-.7l11-.3l9 0l6 .6l7-.4l43 0l9.1-.1l6-.6l6 .5l8-.3l7 .4l12-.6l6 .6l12-.8l14 .6l6-.5l7 .8l7 0l5-.7l8-.3l18.1 .8l14-.9l13 .1l6 .5l13-.5l13 .6l13-.6l19 .6l7-1.1l20.1 .8l7-.7l13 .7l6-.7l12 .7l15-.9l12 1l14-.9l6 .2l5 .9l7-1l6-.3l26.1 1l20-.3l7-.7l6 .8l6-.5l14-.4l6 .6l20 .2l13-1.1l6 .7l12.1 .2l7-.8l31 .1l9 .8l8-.4"/>
<path stroke="#A5A5A5" d="M216.7 2426l13.7 95.1l4.9 29.6l5.1 26.5l5.4 24.5l5.4 20.3l5.9 18l6.5 15.8l7.8 15.1l8.8 13.3l11.5 13.9l6.3 6.4l5.9 5.4l11.9 9.1l12.9 7.5l14.7 6.4l15.3 4.6l15.6 3.3l44.5 7.5l55.1 10.5l46.4 7.5l10.9 .9l20.8 3.7l16.9 1.7l7.9 1.4l8 .4l11.9 2.4l11.9 .9l9 1.3l15.9 1l8 1.5l12.9 .5l19 1.6l20.9 2.9l18 .9l14-.1l8 .8l19 0l6 .4l7-.4l11 .1l7 .8l11-.2l16 1l13 .1l6-.4l20 .5l25-.4l12 .7l9 0l6 .7l20-.1l6-.4l6 .5l14 0l8-.6l14 .6l11.1-.4l11 .8l12-.6l10 1.2l11-.9l26 .8l20.1-.3l12 .6l7-1l52 1l13.1-.3l13 .3l6-.3l12 .2l20-.6l13 .4l6-.3l13 .6l15.1-.6l25 .9l7-.5l15 .4l10-.4l19 .3l19-.6l8 .5l43.1 0l10 .5l11-.7l14 .1l8 .4l12-1l21 .7l11-.5l20 .6l6-.5l6 .5l7-.4l6.1 .7l11-1.1l16 .6l13-.3l6 .6l19-.5l12 .5l17-.5l14 .3l10-.3l6 .4l6-.5l21.1-.4l25 .4l8-.4l20 .9"/>
<path stroke="#FFC000" d="M219.5 2426l18.4 89.2l6.4 27.3l6.5 24.2l7.6 24.8l7.8 21.7l8.2 19.3l9.1 17.9l9.5 15.3l10.2 13.5l10.4 10.9l11.6 9.4l12.7 8l14.5 6.8l14.2 4.8l20.4 5l98.9 21.5l37.4 6.9l20.7 2.8l10.9 2.3l20.8 2.7l9.9 .6l11 2.5l11.9 .3l8 .9l5 1.1l7.9 .5l11 1.4l8-.1l7 1.5l5.9 .2l7 .9l6-.1l14 2l18.9 2l7-.6l38 1.3l7-.7l25 .3l13.1-.8l6 .7l6 .1l35-1.2l6 .3l6-.5l13 0l5.1-.4l8 .5l7-.4l6 .3l20-.2l6-.5l13 .3l6-.7l11 .3l9-.9l7 .8l18.1-.5l7 .7l12-1.1l7 .8l6 .2l8-1.2l7 .6l26 .2l6 .5l12-.6l20.1 .1l17 .5l10-1l19 .9l33-.2l7.1-.4l25 .4l16-1.2l10 .6l13-.4l6 .6l13-.6l8 .9l17.1-.6l13 .5l8-.6l9 .4l23-.8l13 .6l6-.6l7 .5l6.1-.6l20-.2l7 .9l12-.2l7-1.1l6 .4l14-.2l19-1.5l13 .3l22-1.2l13-.2l18-1l13-1.6l5 .1l7-.7l7-.1l6-.9l14-.4l5-.6l14 .2l5-.5l14-.4l14-.8l6 .2l6 .6l7-.4l26-.5l6-.8l7 .2l25.1-.8l13 1.3l9-.3"/>
<path stroke="#4472C4" d="M215.1 2426l10.9 101.5l4 31.8l4.2 28.7l3.7 21.7l4 18.6l4.5 16.4l5 14.1l6.2 13.7l6.9 12.1l7.8 10.4l4 4.4l4.4 4.1l8.1 5.7l10.7 5.6l25 10.2l11.3 3.6l9.8 1.6l13 1.4l65 3.7l26.9 2.8l28.8 3.6l14 .7l43.7 5.2l19.7 3.7l7 0l6.9 2l18.9 .9l7 1.9l7-.6l6 1.1l6 0l7 .8l7 0l5.9 1.4l8-.3l12 .7l6 .9l7-.4l12 1.8l7-.4l6 .9l13 .6l8-.8l5 .6l13 .3l7 .5l6-.8l14 .2l7.1-.6l13 .9l13-.4l19 1l7-.2l5-1.2l13 1.3l7-.9l7 .3l12-.4l7 .3l10.9 1.6l9 .5l13-.4l6 .8l6-.3l8 .2l6-.4l6 .2l6.1-.8l7 .5l9-.8l10-.1l7 .8l11-1l8 .6l12-.3l8 .7l8-1.2l9.1-.2l15 1.2l7-.6l6 .4l8-.2l5-.5l8 .2l12-1.3l7 .1l6 .8l7-.1l8-.9l29 .7l8-.6l7-.2l6 .3l20.1-1l12 .7l7-.8l6 1.1l8-.9l8 .3l11-.6l6 .5l12-.5l7 1l8 .2l5-.7l6 .6l8 .1l6-.5l18 .5l7.1 .8l7-1l7 0l5 .9l8 .6l26-.6l6 .6l7-.5l6 .8l6-.5l13 .5l8-.2l6-.6l6 .7l7-.5l6 .7l7.1-1l6 1.1l7-.6l6 .7l6-.7l7-.3l6 .9l7-.8l7 1.2l6-.9l6 1l6-.2l7 .7l8-.1l12 1l6-.5l6 1.3l4 .2l10-.3l7 .5l7-1.2l12 .2l13 1.3l13-1.4l6 1.1l7 .5l16-1.2l10 .1l6 1.1l33.1-1.1l20 1.1l6-.6l2 .2"/>
<path stroke="#70AD47" d="M217.7 2426l14.9 89.8l5.2 27.6l5.3 24.4l6.1 25.3l6.1 21.2l6.3 17.9l6.9 16.6l8.3 16l9.3 14.3l16.1 20.4l14.1 15.5l12.7 11.4l6.4 4.8l6.6 4.4l6.1 3.5l6.4 2.9l5.6 2.1l6.7 1.8l15.7 2.9l41.7 5.8l60.3 10.1l7.9 .6l13.9 2l13 1.1l31.9 1.8l6 1l6 .1l8 .9l17 .7l14 1.6l13.9 .4l20 1.8l12 .4l7-.6l13 .3l38 2.3l8-.1l6-.6l6.1 .4l6-.3l6 .7l8 .4l12-.6l7 .2l7-.7l7 .6l13 0l19 .9l13 0l6-.6l19.1-.3l12 .8l14-.7l6 .6l8-.4l7 .6l19-.3l19 .3l7-.6l6 .6l13.1-1l12 1l9-.1l11 .4l12-.9l13 1.1l7-.6l6 .1l8 .9l7-.4l6 .7l7-.5l24 1.1l9-1.1l12.1 .1l6 .8l4 .1l16-1l13 1.1l6-.5l8 .1l6-.5l13 .8l19-.7l6-.5l7 .9l15.1-.5l11 .1l6 .5l19-1.1l7 .8l7-.7l6 .8l7-.5l13 0l6 .6l6-.5l20.1 .3l19-.6l7 .7l6 0l7-.6l7 .6l19-.7l8 .8l6-.1l7-.7l5 .3l12-.3l9 .5l19.1-.3l6-.5l7 .6l24-.9l9 1.3l5 0l7-.6l11 .7l9-1.1l19 .8l6.1-.6l6 .4l14 .1l6-.7l6-.1l7 .5l7-.2l11 .4l13-.7l15 .6l13-1l18.1 .7l8-.5l6 .7l13-.8l20 1l8-.5"/>
<path stroke="#255E91" d="M213.9 2426l9.3 113.7l3.7 37.9l3.2 27.8l3.1 19.8l3.7 17.6l4.5 15.4l4.9 13.1l3.9 8.2l3.8 7l4.3 6.7l4.8 6.5l5.1 6.1l5.6 5.7l12.1 10.4l7.3 5.3l7.7 4.8l8.7 4.8l8.1 4l14.9 5.7l21.2 6l22.6 4.6l29.7 4.4l57.7 6.4l17 1.4l39.8 4.4l9.9 .8l9 1.6l36.8 5l12.9 1.1l12.9 2.2l7 .2l6.9 1.3l6-.2l7 .9l6 .1l7 .9l18.9-.1l7 .9l39 2l7-.5l44 1.6l14.1-.4l12 1l8-.2l7 .6l32.1 .8l12 .1l7-.6l13 .6l7-.6l19 1.2l18 .2l8-.4l7.1 .5l13-.1l12 .5l13-.9l7 1.1l13-.7l10 .6l14-.2l13 .6l7.1-.3l14 .5l8-.3l12 .3l6 .5l30-.4l21.1 .6l8-.5l7 .4l6-.2l7 .5l12-.3l23 .3l43.1-.4l12 .7l7-.6l25-.3l8 .9l12 0l6-.5l8 .3l7.1-.4l16 .7l27-.7l7 .6l7-.4l13 .3l7-.5l26.1 .7l12-.8l7 .4l6-.4l8 .6l11-.5l33 .5l7-.8l13.1 .9l13-.3l7 .4l18-.8l18 .6l9-.4l13 .3l6-.4l6.1 .4l7-.3l6 .4l14-.6l12 0l13 .7l14-1l7 .6l12-.5l7.1 .4l6-.3l20 0l13 1l8-.5"/>
<path stroke="#9E480E" d="M218.9 2426l12.6 65.9l6.2 30.4l6.9 30.2l7.3 27.1l8 25.8l8.5 22.4l9.3 20l10 17.3l11.1 15.4l6.5 7.6l6.2 6.5l6.6 6.2l6.2 5l7.3 5.3l6.8 4.3l9.7 5.1l10.1 4.2l51.1 17.8l18.2 5.1l18.6 4.2l25.6 4.8l14.8 2.6l17.9 2.5l15.8 3l9.8 1.4l23.7 4.1l9.9 .8l8 1.5l16.9 1.5l7.9 1.4l8 .1l12 1.4l18.9 1.4l6 .9l26.9 1.9l13 1.4l12 1.7l14 1.1l13-.2l31 .9l8-.6l16-.1l9 .6l13-.6l8 .9l12-.3l20 .2l7.1-.4l16 .3l10-.7l10 .9l32 .2l10 .6l5-.2l14 .3l7 .6l10-.3l8 .2l7 .7l8.1-.2l10 .8l13-.6l9 .9l6-.5l12 .1l47 1.4l12-.4l14 .4l19.1-.4l7 .5l6-.2l12 .8l7-.3l18 0l7 .4l12 .1l8-.5l7 .5l6-.6l9 0l11.1 .7l7-.6l6 .3l12-.6l20 1.1l32-.9l13 .9l14-.8l19.1 .6l20-.3l13 .3l6-.4l7 .6l18-.8l21 .6l13-.8l19.1 .5l7-.3l6 .6l12-.5l8 .7l14-.6l11 .6l12-1l34.1 .9l14-.7l18 .8l22-.6l11 .6l17-.9l11 .5l17.1-.6l8 .3l24-.4l12 1.1l4-.2"/>
<path stroke="#636363" d="M214.5 2426l10.2 108.6l3.9 34.8l3.9 29.8l3.4 20.7l3.9 17.6l4.4 15.4l5.2 14l3.8 8.2l3.8 7l4.2 6.8l5.3 7.3l8.2 10.1l7.9 9l7.7 7.9l7.4 6.7l12 8.9l5.2 3.1l6.2 3.1l15 5.4l19.4 5.3l20.6 4.1l25.7 3.9l59.7 7l30.9 3l51.9 3l10 1l10 .1l11 1.1l11 .1l16 1.3l13-.2l7 .8l19 .2l14-.4l6 .8l13-.2l7 .6l5-.3l15 .4l5 .7l7-.7l7 .4l7-.7l6 .3l6 1.1l13-.5l7 .2l7.1-.5l6 .4l6-.3l7 .7l6-.7l10 .8l16 .3l13-.2l10 .4l9-.4l11 .2l9-.7l7 1.1l13-.2l6 .7l8 .1l18.1-1l12 .9l7-.6l8 .4l11-1.1l13 1.1l7-.5l9 .5l12-.6l13 .8l18-.6l20 .4l13.1-.1l6 .5l9 .1l5-.2l6-.9l6 .9l7-.6l7 .1l5 .6l8-.6l13 .2l6 .6l6-.6l7 .6l13 0l13-.5l6 .3l11-.8l10.1 .6l14-.9l5 .3l6 1.1l13-1.1l52 1.1l7-1l12 .4l6 .6l20-.9l13 .5l7.1-.4l13 .5l6-.5l7 .6l6-.5l8 .3l24-.7l19 1l8-.9l13 .4l30-.5l10 1.1l17.1-.6l13 .3l8-.5l6 .6l13-.5l13 .4l6-.5l7 .2l6-.3l8 .4l6-.2l6 .5l7-.3l6-.7l8 .6l17 .2l8.1-.4l12 .6l12-1l8 .8l11-.7l13 0l9 1l8-.2"/>
<path stroke="#997300" d="M215.6 2426l12.2 102.3l4.6 32.7l4.7 28.7l4.4 22.6l4.8 19.4l5.5 17.2l6 14.8l7.4 14.2l9.6 14l19.4 24.2l7.5 8l6.7 6.1l8.9 6.3l10.6 5.3l17.1 6l21.2 5.9l26.4 5.7l72.9 13.5l33.6 5l20.9 2.6l17.9 1.5l7 1.3l12.9 .8l7 1.2l12.9 1.1l24.8 4l7 .3l12.9 2l6 .1l8.9 1.2l17 1l7 0l39 3.2l7-.4l6 .6l13-.7l8 .6l11 .1l29-.4l10 .7l13-.6l13 .8l13-.6l8 .4l41.1-.4l16 .6l7-.3l7 .3l18-.7l27 .7l8-.9l5 .3l22.1-.1l10 .4l11-.7l10 1.3l11-.9l8 .5l32 .3l15-.1l11-.7l7 .7l28.1-.4l36 .8l7-.4l13 .4l6-.5l13-.3l11 .5l10-.6l12 .9l13-.9l6 .4l6.1-.3l40 .7l11-.6l13 .8l8-.7l6 .5l7-.3l13 .4l7-.4l13 .5l6-.5l28.1 .3l11-.6l25 .6l8-.5l26 .5l19-.9l9 .7l17-.2l6.1 .7l8-.9l31 .7l13-.5l21 .4l19-.7l15 .6l14 0l15.1-.6l8 .4l12-.6l7 .7l7-.5l7 .3l6-.5l13 .9l8-.1"/>
<path stroke="#264478" d="M215.7 2426l12.4 101.3l4.7 32.7l4.7 28.7l4.5 22.6l4.8 19.4l5.5 17.1l6 14.9l7.4 14.2l8.3 12.4l22 28.6l7.3 8.2l6.5 6.2l8.9 6.4l9.8 4.8l17 5.9l20.4 5.6l25.4 5.5l70.9 13.3l17.8 3l18.8 2.2l6.9 1.5l14 1.3l5.9 .1l6 1.1l12.9 1.3l7 1.3l12.9 .3l12 2.7l7.9-.2l6 1.2l5.9 1.8l13 .7l12.9 2.2l6 .2l13.9 1.3l7-.2l19 1.6l6-.2l7 1.2l6 0l13 1.7l7-.9l8 0l23 1.3l8-.5l7 .2l6-.7l6 .4l13-.5l7 1.1l6-.8l7.1 .8l6 .2l6-.9l7-.1l7 1l6-.7l7 .3l11-.5l9 .4l6-.6l12-.1l27.1 1.4l12-1.2l8 .1l6 .9l6-1l19 .6l7-.9l9 1.1l5-.1l6-.8l12.1 1.3l9-.8l17 .8l7-1.3l46 1.4l7-.1l6-.9l6.1 .2l6-.4l8 .4l6 .9l7-.7l5 .3l14-.2l6 .6l7 0l13-.9l7 .9l13-.3l12.1-.9l6 1l7-.8l7 1l7-1.1l7 .7l12-.1l6 .4l7-.3l6-.7l14 .8l12-.6l7.1 .4l13-.3l6 .3l14-.1l5 .5l6-.7l7-.1l8 .9l12-.9l7 .3l6 .8l20.1-.4l5-.6l13 .8l14 0l6-.6l12 .4l8-.6l6 .7l6-.7l7 .5l7-.6l6 .9l7.1-.8l18 1l8-.6l7 .4l5-.6l8-.3l6 .5l7-.2l6 .7l6-.5l7 .5l6-.8l7 .4l12.1-.6l7 .9l13-.6l18 .1l8 .8l19-1.6l8 .7l13-.6l6.1 .8l6-.7l6 .4l13-.6l7 1.1l6-.4l6 .8l3-.1"/>
<path stroke="#43682B" d="M217.7 2426l14.9 89.8l5.2 27.6l5.3 24.4l6.1 25.3l6.1 21.1l6.2 18l7 16.6l8.3 16l8.7 13.4l16 20.5l14.1 15.5l12.7 11.4l6.3 4.8l6.7 4.5l6 3.5l6.3 3l5.6 2.1l6.7 1.9l14.7 2.8l43.7 6.1l62.3 10.1l32.7 4.6l6.9 .5l13.9 2l23.8 2.6l8 1.9l11.9 1.3l5 0l6.9 1.2l19.9 1.9l7 1.3l6 .1l11.9 1.5l14 1.1l6.9-.2l13 1l6 1.3l8 .8l32 .9l5 .6l7-.1l13 .9l7-.6l12 .1l8-.4l7 .7l7-.5l6 .1l6 .7l6-.4l7 .5l7-.6l21 .7l5-.1l5-.6l13.1 .6l8-.9l11 1.2l8-.2l12 .6l7-.8l6 .5l20-.4l6 .6l12 .1l8-.7l7 .8l14-.6l11 1.2l10-1.1l11 .7l12.1-.5l19 .9l7-.4l7 .5l6-.5l7 .7l24-.6l15 .7l13-.5l6 .8l12-.4l14 .6l13-.5l14.1 .1l5 .4l7-.7l6 .5l6-.3l7 .4l12-.6l20 .7l9-.3l37 .6l16-.4l12 .5l29.1-.8l8 .7l13-.5l20 0l20 .6l18-.7l15 .5l12-.9l13 .4l6-.3l7 .7l13-.5l7 .4l5.1-.3l7 .6l7-.7l7 .9l18-1l14 .8l18-.8l14 .4l7-.4l12 .8l20-.8l8 .7l25.1-.6l11 .6l16-.2l12-.7l14 .1l12 .9l8-.2"/>
<path stroke="#7CAFDD" d="M213.9 2426l9.3 113.7l3.7 37.9l3.2 27.8l3.1 19.8l3.7 17.6l4.5 15.4l4.9 13.1l3.9 8.1l3.8 7.1l4.3 6.7l4.7 6.4l5.2 6.1l5.6 5.8l12.1 10.4l7.4 5.2l7.6 4.7l16.9 8.8l14.9 5.7l21.2 6l22.6 4.6l28.7 4.2l58.7 6.6l34.9 3.1l13.9 2.1l17.9 1.3l19.9 3.4l8 .7l12.9 2.3l5.9 0l13.9 2.5l18.9 1.9l19 .9l6.9 1l6 0l13 .8l32 .9l7 1.2l7-.3l6 .7l7-.7l32 1.7l26-.2l7 .7l6.1-.4l6 .8l13 .1l7 .7l7 0l6-.4l18 .7l8-.7l12.1 .9l10-.2l24 .7l6-.4l6 .7l7-.9l32 1l11-.6l13.1 .5l11-.2l10 .9l8-.9l13 1.2l11-.5l8 .4l18-.2l33.1 1l13-.6l14 .5l13-.6l6 .7l13 .4l6-.6l19-.2l8.1 1l13-.9l25 .7l12-1l14 1.2l15-.9l11 .6l6-.6l14.1 .4l7-.3l9 .5l10-.4l12 .7l14-.5l7 .3l5-.5l33.1 .6l6-.5l13 0l7 .7l8-1l5 .5l7-.4l7 .5l18-.7l7 .6l6-.4l14 .5l16.1-.5l11 .8l17-.6l7 .4l8-.5l18-.1l7 .7l7-.5l19.1 0l6-.4l9 1.1l11-.1l7-.9l13 .7l19-.8l7 .7l6-.7l7 .8l39.1-1l7 .5l5 .8l9-.3"/>
<path stroke="#F1975A" d="M215.6 2426l12.2 102.4l4.6 32.7l4.7 28.6l4.4 22.6l4.8 19.4l5.5 17.2l6 14.8l7.4 14.2l9.6 14l20 25l7.5 8.1l6.7 6l8.9 6.3l10.8 5.2l17 5.9l21.3 5.8l22.4 5l51.2 9.6l21.7 4l23.7 3.9l7 .5l5.9 1.3l24.9 2.9l7.9 .1l7 1.5l25.9 1.9l19.9 2.8l11.9 2.7l6.9-.4l6 1.4l5.9 .2l7 1.1l7 .3l18.9 2.3l7-.3l13 1.4l6-.2l7 1.2l6-.5l13 1.7l7 .2l7-.4l6 .6l9-.5l11 0l12 .6l20-.7l8 .8l12-1.1l6.1 .4l6 .9l7-.1l6-.6l15 .5l12-.7l5 .6l7-.2l6 .4l8-1.3l11 1.1l8 .1l6-.5l12.1 1l8-1.4l7 1l6-.4l7 .4l6-.5l7 .5l18-.8l14 0l7 .8l13-1.1l14.1 .9l17-.2l20 .6l13-.6l7 .7l6-.6l19-.4l8 .3l6 .9l6 0l7.1-.9l6 .8l7-.6l19 .9l7-.5l14 .5l24-1.2l13 .9l8-1.1l17.1 1.1l18-.8l16 .9l7-.7l13 .8l13-.6l13 .4l6-.5l6 .5l7-.8l13.1 .2l6 .6l7-.6l13 .8l6-.8l7 .6l19-.3l6 .4l7-.8l8 .2l13 1l6-.3l6-.8l6.1 .4l13-.4l7 .6l6-.7l14 .7l20-.7l6 .3l5 .8l11-.9l13-.3l3 .1l6 1.1l7.1-.9l6 .7l6-.2l7 .2l7-.5l12 .6l21-.8l12 .8l20-1.3l6 .8l13.1-.6l19 .2l7-.4l15 .9l13-.3"/>
<path stroke="#B7B7B7" d="M216.8 2426l14.1 96l5 29.6l5.2 26.5l5.5 24.4l5.6 20.3l6.1 18l6.6 15.7l7.9 15l8.9 13.3l11.6 13.7l6.4 6.4l5.9 5.3l12.1 8.9l14 7.8l14.7 6.2l16.3 5l14.7 2.8l32.7 4.4l14.8 2.4l28.5 5.8l14.6 3.5l11.8 2.2l7 .7l5.9 1.3l25.7 3.8l5.9 1.4l6.9 .8l13.8 2.9l6 .2l12.8 2.3l7 .5l5.9 1.4l12 .3l13.9 2.2l20 1.1l5.9 1.1l7 .3l6 1.2l13-.2l13.9 1.2l19 2.4l6 1.4l7-.3l7 1.1l7-.1l6-.5l15.9 1.2l14 .3l21-.8l8 .5l6.1-.7l5 .6l14 .4l13-.6l25 .1l8-.3l12 .9l13-1.1l7 .8l13-.2l12.1 1.3l14-.9l13 1.3l7-.4l6 .7l12-.3l8 .6l7-.1l5 .6l24-.4l9 1.4l13-1.4l6 .8l13 .7l7-.4l13 .5l7-.5l12 1l7.1-1.2l7 .9l6-.3l7 .5l6-.3l6 .4l13-.2l13 .7l13-.5l7 .8l6-.4l14 .3l18-.7l7 .3l10-.5l4 .2l6 1.3l10.1-.6l17-.1l5-.6l10 .8l4 0l6-.7l21 .3l12 .9l5-.9l7-.3l6 .8l7 .2l7-.9l7 .3l6 .7l7-.1l6-.6l6 .4l14.1-.4l13 .6l7-.8l19 .8l5-.5l12-.1l8 .4l13-.3l19 .4l7-.7l12 .8l14-.8l6.1 1.1l8-1.3l6 .6l5-.6l7 0l6 .8l8-.3l6 .6l52-.7l24 .6l15.1-1.1l6 1l7-.9l7 .6l6-.7l6 .5l14-.1l5-.6l8 .8l8-.3"/>
<path stroke="#FFCD33" d="M218.4 2426l16.2 89.6l5.7 27.5l5.9 25.3l6.8 25.2l6.7 21l7 18.7l8 17.2l8.3 14.9l9.1 13.2l9.1 10.6l9.7 8.6l10 6.5l12.6 6.1l18 6.4l16.3 4.4l13.8 2.4l38.7 5.5l53.2 10l25.7 3.8l6.9 1.6l20.6 3.5l24.5 6.4l12.7 1.2l12.9 3.2l8.9 .5l4.9 1l5.9 1.9l7 0l5.9 1.3l6 .3l12.9 2.1l7 .1l6 1.3l6.9 .9l13 .4l13.9 1.6l6 1.1l13 1l6 .9l7 0l12 .9l7-.7l13 1.1l7-.6l19 .4l6-.7l9 .1l5-.4l14 .8l25.1-1.1l6 .6l7-.6l6 .6l6-.9l6-.2l8 .8l7-1.3l9 .8l16.1-.4l7 .5l7-.3l6-.8l18 .7l8-.4l7 .2l10-.6l27.1-.6l7 .5l8-1.1l6 .7l11 .5l14-.8l7 .4l7-.6l13 1.3l7.1-.1l5-.7l6-.2l7 .7l7-.5l7 .4l6-.8l12 1l21-.4l12 .6l7.1-1l6 .9l7-.5l11 .4l9-.5l6-.7l6 .7l7 .2l6-.8l7 .4l6-.7l7 1.4l7.1-.6l14-.3l11 .5l20-.2l6-.6l13 1l11-.6l9.1 .6l7-1l5 .5l14 .2l6-.9l7-.1l7 .1l6 .8l6-1.1l20 .7l13-.7l6.1 .3l7-.8l7 .6l18-1l7 0l6-1l6-.3l14 0l12-1.3l8 .9l7-.7l13-.2l12-1.3l6-1.2l13-.9l12.9 .2l20-.7l7-.7l11 .3l8.1-1.3l14-.1l12 .7l13-.6l7-1l13 .7l5-1.1l7-.3l13 .8l14.1-.3l7 .4l5-.4l9 .3"/>
</g>
<text class="tick" text-anchor="end" x="164.6" y="2452.9" textLength="50.1" lengthAdjust="spacingAndGlyphs">20</text>
<text class="tick" text-anchor="end" x="164.6" y="2525.5" textLength="50.1" lengthAdjust="spacingAndGlyphs">10</text>
<text class="tick" text-anchor="end" x="164.6" y="2598.4" textLength="25" lengthAdjust="spacingAndGlyphs">0</text>
<text class="tick" text-anchor="end" x="164.6" y="2672" textLength="66.6" lengthAdjust="spacingAndGlyphs">-10</text>
<text class="tick" text-anchor="end" x="164.6" y="2744.9" textLength="66.6" lengthAdjust="spacingAndGlyphs">-20</text>
<text class="tick" text-anchor="end" x="164.6" y="2818.5" textLength="66.6" lengthAdjust="spacingAndGlyphs">-30</text>
<text class="tick" text-anchor="end" x="164.6" y="2891.3" textLength="66.6" lengthAdjust="spacingAndGlyphs">-40</text>
<text class="tick" text-anchor="middle" x="206.2" y="2952" textLength="87.2" lengthAdjust="spacingAndGlyphs">9:30</text>
<text class="tick" text-anchor="middle" x="425" y="2952" textLength="112.1" lengthAdjust="spacingAndGlyphs">10:30</text>
<text class="tick" text-anchor="middle" x="643.6" y="2952" textLength="112.1" lengthAdjust="spacingAndGlyphs">11:30</text>
<text class="tick" text-anchor="middle" x="861.8" y="2952" textLength="112.1" lengthAdjust="spacingAndGlyphs">12:30</text>
<text class="tick" text-anchor="middle" x="1080" y="2952" textLength="112.1" lengthAdjust="spacingAndGlyphs">13:30</text>
<text class="tick" text-anchor="middle" x="1298" y="2952" textLength="112.1" lengthAdjust="spacingAndGlyphs">14:30</text>
<text class="tick" text-anchor="middle" x="1516.2" y="2952" textLength="112.1" lengthAdjust="spacingAndGlyphs">15:30</text>
<text class="tick" text-anchor="middle" x="1733.3" y="2952" textLength="112.1" lengthAdjust="spacingAndGlyphs">16:30</text>
<text class="atitle" text-anchor="middle" textLength="389" lengthAdjust="spacingAndGlyphs" transform="translate(70.2 2658.7) rotate(-90)">Temperature in °C</text>
<path class="lk" stroke="#5B9BD5" d="M189 3044.5H290.9"/>
<text class="leg" x="300.3" y="3058.4" textLength="237.8" lengthAdjust="spacingAndGlyphs">TS_V_h4_F1</text>
<path class="lk" stroke="#ED7D31" d="M552.1 3044.5H653.5"/>
<text class="leg" x="663" y="3058.4" textLength="237.8" lengthAdjust="spacingAndGlyphs">TS_V_h3_F1</text>
<path class="lk" stroke="#A5A5A5" d="M914.6 3044.5H1016.7"/>
<text class="leg" x="1026.3" y="3058.4" textLength="237.8" lengthAdjust="spacingAndGlyphs">TS_V_h2_F1</text>
<path class="lk" stroke="#FFC000" d="M1277.5 3044.5H1379.3"/>
<text class="leg" x="1388.8" y="3058.4" textLength="237.8" lengthAdjust="spacingAndGlyphs">TS_V_h1_F1</text>
<path class="lk" stroke="#4472C4" d="M189 3132.5H290.9"/>
<text class="leg" x="300.3" y="3146.6" textLength="237.8" lengthAdjust="spacingAndGlyphs">TS_V_h4_F2</text>
<path class="lk" stroke="#70AD47" d="M552.1 3132.5H653.5"/>
<text class="leg" x="663" y="3146.6" textLength="237.8" lengthAdjust="spacingAndGlyphs">TS_V_h3_F2</text>
<path class="lk" stroke="#255E91" d="M914.6 3132.5H1016.7"/>
<text class="leg" x="1026.3" y="3146.6" textLength="237.8" lengthAdjust="spacingAndGlyphs">TS_V_h2_F2</text>
<path class="lk" stroke="#9E480E" d="M1277.5 3132.5H1379.3"/>
<text class="leg" x="1388.8" y="3146.6" textLength="237.8" lengthAdjust="spacingAndGlyphs">TS_V_h1_F2</text>
<path class="lk" stroke="#636363" d="M189 3220.8H290.9"/>
<text class="leg" x="300.3" y="3234.8" textLength="234" lengthAdjust="spacingAndGlyphs">TS_S_h4_F3</text>
<path class="lk" stroke="#997300" d="M552.1 3220.8H653.5"/>
<text class="leg" x="663" y="3234.8" textLength="234" lengthAdjust="spacingAndGlyphs">TS_S_h3_F3</text>
<path class="lk" stroke="#264478" d="M914.6 3220.8H1016.7"/>
<text class="leg" x="1026.3" y="3234.8" textLength="234" lengthAdjust="spacingAndGlyphs">TS_S_h2_F3</text>
<path class="lk" stroke="#43682B" d="M1277.5 3220.8H1379.3"/>
<text class="leg" x="1388.8" y="3234.8" textLength="234" lengthAdjust="spacingAndGlyphs">TS_S_h1_F3</text>
<path class="lk" stroke="#7CAFDD" d="M189 3309H290.9"/>
<text class="leg" x="300.3" y="3323" textLength="234" lengthAdjust="spacingAndGlyphs">TS_S_h4_F4</text>
<path class="lk" stroke="#F1975A" d="M552.1 3309H653.5"/>
<text class="leg" x="663" y="3323" textLength="234" lengthAdjust="spacingAndGlyphs">TS_S_h3_F4</text>
<path class="lk" stroke="#B7B7B7" d="M914.6 3309H1016.7"/>
<text class="leg" x="1026.3" y="3323" textLength="234" lengthAdjust="spacingAndGlyphs">TS_S_h2_F4</text>
<path class="lk" stroke="#FFCD33" d="M1277.5 3309H1379.3"/>
<text class="leg" x="1388.8" y="3323" textLength="234" lengthAdjust="spacingAndGlyphs">TS_S_h1_F4</text>
</g>
</g>
</svg>
</body>
</html>
